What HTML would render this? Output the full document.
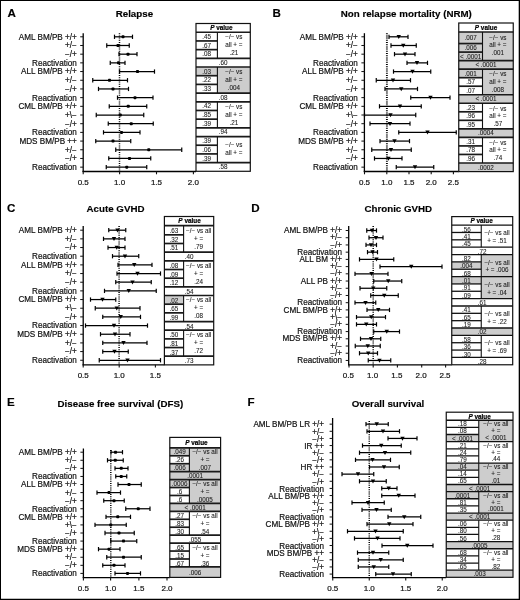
<!DOCTYPE html>
<html lang="en"><head><meta charset="utf-8"><title>Figure</title>
<style>
html,body{margin:0;padding:0;background:#fff;}
body{width:520px;height:600px;overflow:hidden;font-family:'Liberation Sans', Arial, Helvetica, sans-serif;}
svg{display:block;}
.soft{filter:blur(0.32px);}
text{font-family:'Liberation Sans', Arial, Helvetica, sans-serif;fill:#111;}
text.n{stroke:#111;stroke-width:0.2px;}
text.t{fill:#1c1c1c;stroke:#1c1c1c;stroke-width:0.08px;}
text.b{font-weight:bold;fill:#000;stroke:#000;stroke-width:0.15px;}
text.h{stroke-width:0.2px;}
</style></head><body>
<svg width="520" height="600" viewBox="0 0 520 600" font-family="'Liberation Sans', Arial, Helvetica, sans-serif">
<rect x="0" y="0" width="520" height="600" fill="#fff"/>
<g class="soft">
<g id="panel-A">
<text x="7.5" y="16.7" font-size="11.6" text-anchor="start" class="b">A</text>
<text x="134.4" y="17" font-size="9.75" text-anchor="middle" class="b">Relapse</text>
<text x="76.8" y="39.7" font-size="8.15" text-anchor="end" class="n">AML BM/PB +/+</text>
<text x="76.8" y="48.39" font-size="8.15" text-anchor="end" class="n">+/−</text>
<text x="76.8" y="57.08" font-size="8.15" text-anchor="end" class="n">−/+</text>
<text x="76.8" y="65.77" font-size="8.15" text-anchor="end" class="n">Reactivation</text>
<text x="76.8" y="74.46" font-size="8.15" text-anchor="end" class="n">ALL BM/PB +/+</text>
<text x="76.8" y="83.15" font-size="8.15" text-anchor="end" class="n">+/−</text>
<text x="76.8" y="91.84" font-size="8.15" text-anchor="end" class="n">−/+</text>
<text x="76.8" y="100.53" font-size="8.15" text-anchor="end" class="n">Reactivation</text>
<text x="76.8" y="109.22" font-size="8.15" text-anchor="end" class="n">CML BM/PB +/+</text>
<text x="76.8" y="117.91" font-size="8.15" text-anchor="end" class="n">+\−</text>
<text x="76.8" y="126.6" font-size="8.15" text-anchor="end" class="n">−/+</text>
<text x="76.8" y="135.29" font-size="8.15" text-anchor="end" class="n">Reactivation</text>
<text x="76.8" y="143.98" font-size="8.15" text-anchor="end" class="n">MDS BM/PB ++</text>
<text x="76.8" y="152.67" font-size="8.15" text-anchor="end" class="n">+/−</text>
<text x="76.8" y="161.36" font-size="8.15" text-anchor="end" class="n">−/+</text>
<text x="76.8" y="170.05" font-size="8.15" text-anchor="end" class="n">Reactivation</text>
<line x1="83.2" y1="33.2" x2="83.2" y2="172" stroke="#000" stroke-width="1.3"/>
<line x1="80.2" y1="36.8" x2="83.2" y2="36.8" stroke="#111" stroke-width="1"/>
<line x1="80.2" y1="45.49" x2="83.2" y2="45.49" stroke="#111" stroke-width="1"/>
<line x1="80.2" y1="54.18" x2="83.2" y2="54.18" stroke="#111" stroke-width="1"/>
<line x1="80.2" y1="62.87" x2="83.2" y2="62.87" stroke="#111" stroke-width="1"/>
<line x1="80.2" y1="71.56" x2="83.2" y2="71.56" stroke="#111" stroke-width="1"/>
<line x1="80.2" y1="80.25" x2="83.2" y2="80.25" stroke="#111" stroke-width="1"/>
<line x1="80.2" y1="88.94" x2="83.2" y2="88.94" stroke="#111" stroke-width="1"/>
<line x1="80.2" y1="97.63" x2="83.2" y2="97.63" stroke="#111" stroke-width="1"/>
<line x1="80.2" y1="106.32" x2="83.2" y2="106.32" stroke="#111" stroke-width="1"/>
<line x1="80.2" y1="115.01" x2="83.2" y2="115.01" stroke="#111" stroke-width="1"/>
<line x1="80.2" y1="123.7" x2="83.2" y2="123.7" stroke="#111" stroke-width="1"/>
<line x1="80.2" y1="132.39" x2="83.2" y2="132.39" stroke="#111" stroke-width="1"/>
<line x1="80.2" y1="141.08" x2="83.2" y2="141.08" stroke="#111" stroke-width="1"/>
<line x1="80.2" y1="149.77" x2="83.2" y2="149.77" stroke="#111" stroke-width="1"/>
<line x1="80.2" y1="158.46" x2="83.2" y2="158.46" stroke="#111" stroke-width="1"/>
<line x1="80.2" y1="167.15" x2="83.2" y2="167.15" stroke="#111" stroke-width="1"/>
<line x1="82.55" y1="171.5" x2="196" y2="171.5" stroke="#000" stroke-width="1.3"/>
<line x1="83.2" y1="171.5" x2="83.2" y2="174.3" stroke="#111" stroke-width="1.1"/>
<text x="83.2" y="184.8" font-size="8" text-anchor="middle" class="n">0.5</text>
<line x1="119.6" y1="171.5" x2="119.6" y2="174.3" stroke="#111" stroke-width="1.1"/>
<text x="119.6" y="184.8" font-size="8" text-anchor="middle" class="n">1.0</text>
<line x1="156.5" y1="171.5" x2="156.5" y2="174.3" stroke="#111" stroke-width="1.1"/>
<text x="156.5" y="184.8" font-size="8" text-anchor="middle" class="n">1.5</text>
<line x1="193.4" y1="171.5" x2="193.4" y2="174.3" stroke="#111" stroke-width="1.1"/>
<text x="193.4" y="184.8" font-size="8" text-anchor="middle" class="n">2.0</text>
<line x1="119.5" y1="33.2" x2="119.5" y2="171.5" stroke="#000" stroke-width="1.5" stroke-dasharray="1 1.2"/>
<line x1="114.5" y1="36.8" x2="132.5" y2="36.8" stroke="#000" stroke-width="1.25"/>
<line x1="114.5" y1="34.65" x2="114.5" y2="38.95" stroke="#000" stroke-width="1.2"/>
<line x1="132.5" y1="34.65" x2="132.5" y2="38.95" stroke="#000" stroke-width="1.2"/>
<rect x="121.5" y="35.3" width="3" height="3" rx="0.8" fill="#000"/>
<line x1="106.75" y1="45.49" x2="129.25" y2="45.49" stroke="#000" stroke-width="1.25"/>
<line x1="106.75" y1="43.34" x2="106.75" y2="47.64" stroke="#000" stroke-width="1.2"/>
<line x1="129.25" y1="43.34" x2="129.25" y2="47.64" stroke="#000" stroke-width="1.2"/>
<rect x="116.5" y="43.99" width="3" height="3" rx="0.8" fill="#000"/>
<line x1="119" y1="54.18" x2="137" y2="54.18" stroke="#000" stroke-width="1.25"/>
<line x1="119" y1="52.03" x2="119" y2="56.33" stroke="#000" stroke-width="1.2"/>
<line x1="137" y1="52.03" x2="137" y2="56.33" stroke="#000" stroke-width="1.2"/>
<rect x="126.5" y="52.68" width="3" height="3" rx="0.8" fill="#000"/>
<line x1="110.25" y1="62.87" x2="125" y2="62.87" stroke="#000" stroke-width="1.25"/>
<line x1="110.25" y1="60.72" x2="110.25" y2="65.02" stroke="#000" stroke-width="1.2"/>
<line x1="125" y1="60.72" x2="125" y2="65.02" stroke="#000" stroke-width="1.2"/>
<rect x="117" y="61.37" width="3" height="3" rx="0.8" fill="#000"/>
<line x1="119.5" y1="71.56" x2="154.5" y2="71.56" stroke="#000" stroke-width="1.25"/>
<line x1="119.5" y1="69.41" x2="119.5" y2="73.71" stroke="#000" stroke-width="1.2"/>
<line x1="154.5" y1="69.41" x2="154.5" y2="73.71" stroke="#000" stroke-width="1.2"/>
<rect x="136" y="70.06" width="3" height="3" rx="0.8" fill="#000"/>
<line x1="92.75" y1="80.25" x2="127.5" y2="80.25" stroke="#000" stroke-width="1.25"/>
<line x1="92.75" y1="78.1" x2="92.75" y2="82.4" stroke="#000" stroke-width="1.2"/>
<line x1="127.5" y1="78.1" x2="127.5" y2="82.4" stroke="#000" stroke-width="1.2"/>
<rect x="108" y="78.75" width="3" height="3" rx="0.8" fill="#000"/>
<line x1="98.5" y1="88.94" x2="128.5" y2="88.94" stroke="#000" stroke-width="1.25"/>
<line x1="98.5" y1="86.79" x2="98.5" y2="91.09" stroke="#000" stroke-width="1.2"/>
<line x1="128.5" y1="86.79" x2="128.5" y2="91.09" stroke="#000" stroke-width="1.2"/>
<rect x="111.5" y="87.44" width="3" height="3" rx="0.8" fill="#000"/>
<line x1="117.5" y1="97.63" x2="153" y2="97.63" stroke="#000" stroke-width="1.25"/>
<line x1="117.5" y1="95.48" x2="117.5" y2="99.78" stroke="#000" stroke-width="1.2"/>
<line x1="153" y1="95.48" x2="153" y2="99.78" stroke="#000" stroke-width="1.2"/>
<rect x="133.5" y="96.13" width="3" height="3" rx="0.8" fill="#000"/>
<line x1="109.25" y1="106.32" x2="146.75" y2="106.32" stroke="#000" stroke-width="1.25"/>
<line x1="109.25" y1="104.17" x2="109.25" y2="108.47" stroke="#000" stroke-width="1.2"/>
<line x1="146.75" y1="104.17" x2="146.75" y2="108.47" stroke="#000" stroke-width="1.2"/>
<rect x="126.75" y="104.82" width="3" height="3" rx="0.8" fill="#000"/>
<line x1="96.25" y1="115.01" x2="143.75" y2="115.01" stroke="#000" stroke-width="1.25"/>
<line x1="96.25" y1="112.86" x2="96.25" y2="117.16" stroke="#000" stroke-width="1.2"/>
<line x1="143.75" y1="112.86" x2="143.75" y2="117.16" stroke="#000" stroke-width="1.2"/>
<rect x="118.75" y="113.51" width="3" height="3" rx="0.8" fill="#000"/>
<line x1="108.25" y1="123.7" x2="153.25" y2="123.7" stroke="#000" stroke-width="1.25"/>
<line x1="108.25" y1="121.55" x2="108.25" y2="125.85" stroke="#000" stroke-width="1.2"/>
<line x1="153.25" y1="121.55" x2="153.25" y2="125.85" stroke="#000" stroke-width="1.2"/>
<rect x="129.75" y="122.2" width="3" height="3" rx="0.8" fill="#000"/>
<line x1="103.5" y1="132.39" x2="140" y2="132.39" stroke="#000" stroke-width="1.25"/>
<line x1="103.5" y1="130.24" x2="103.5" y2="134.54" stroke="#000" stroke-width="1.2"/>
<line x1="140" y1="130.24" x2="140" y2="134.54" stroke="#000" stroke-width="1.2"/>
<rect x="120" y="130.89" width="3" height="3" rx="0.8" fill="#000"/>
<line x1="95.75" y1="141.08" x2="130.75" y2="141.08" stroke="#000" stroke-width="1.25"/>
<line x1="95.75" y1="138.93" x2="95.75" y2="143.23" stroke="#000" stroke-width="1.2"/>
<line x1="130.75" y1="138.93" x2="130.75" y2="143.23" stroke="#000" stroke-width="1.2"/>
<rect x="111.5" y="139.58" width="3" height="3" rx="0.8" fill="#000"/>
<line x1="115.75" y1="149.77" x2="181.75" y2="149.77" stroke="#000" stroke-width="1.25"/>
<line x1="115.75" y1="147.62" x2="115.75" y2="151.92" stroke="#000" stroke-width="1.2"/>
<line x1="181.75" y1="147.62" x2="181.75" y2="151.92" stroke="#000" stroke-width="1.2"/>
<rect x="147.25" y="148.27" width="3" height="3" rx="0.8" fill="#000"/>
<line x1="108.75" y1="158.46" x2="150.75" y2="158.46" stroke="#000" stroke-width="1.25"/>
<line x1="108.75" y1="156.31" x2="108.75" y2="160.61" stroke="#000" stroke-width="1.2"/>
<line x1="150.75" y1="156.31" x2="150.75" y2="160.61" stroke="#000" stroke-width="1.2"/>
<rect x="128" y="156.96" width="3" height="3" rx="0.8" fill="#000"/>
<line x1="106.25" y1="167.15" x2="146.75" y2="167.15" stroke="#000" stroke-width="1.25"/>
<line x1="106.25" y1="165" x2="106.25" y2="169.3" stroke="#000" stroke-width="1.2"/>
<line x1="146.75" y1="165" x2="146.75" y2="169.3" stroke="#000" stroke-width="1.2"/>
<rect x="125.25" y="165.65" width="3" height="3" rx="0.8" fill="#000"/>
<rect x="196" y="23.5" width="54.3" height="147.79" fill="#fff" stroke="none" stroke-width="1"/>
<rect x="217.4" y="67.02" width="32.9" height="26.07" fill="#cdcdcd" stroke="none" stroke-width="1"/>
<rect x="196" y="67.02" width="21.4" height="8.69" fill="#cdcdcd" stroke="none" stroke-width="1"/>
<line x1="196" y1="32.26" x2="250.3" y2="32.26" stroke="#1a1a1a" stroke-width="1.7"/>
<line x1="196" y1="40.95" x2="217.4" y2="40.95" stroke="#1a1a1a" stroke-width="1.7"/>
<line x1="196" y1="49.64" x2="217.4" y2="49.64" stroke="#1a1a1a" stroke-width="1.7"/>
<line x1="196" y1="58.33" x2="250.3" y2="58.33" stroke="#1a1a1a" stroke-width="1.7"/>
<line x1="217.4" y1="32.26" x2="217.4" y2="58.33" stroke="#111" stroke-width="1.1"/>
<line x1="196" y1="67.02" x2="250.3" y2="67.02" stroke="#1a1a1a" stroke-width="1.7"/>
<line x1="196" y1="75.7" x2="217.4" y2="75.7" stroke="#1a1a1a" stroke-width="1.7"/>
<line x1="196" y1="84.4" x2="217.4" y2="84.4" stroke="#1a1a1a" stroke-width="1.7"/>
<line x1="196" y1="93.09" x2="250.3" y2="93.09" stroke="#1a1a1a" stroke-width="1.7"/>
<line x1="217.4" y1="67.02" x2="217.4" y2="93.09" stroke="#111" stroke-width="1.1"/>
<line x1="196" y1="101.78" x2="250.3" y2="101.78" stroke="#1a1a1a" stroke-width="1.7"/>
<line x1="196" y1="110.47" x2="217.4" y2="110.47" stroke="#1a1a1a" stroke-width="1.7"/>
<line x1="196" y1="119.16" x2="217.4" y2="119.16" stroke="#1a1a1a" stroke-width="1.7"/>
<line x1="196" y1="127.84" x2="250.3" y2="127.84" stroke="#1a1a1a" stroke-width="1.7"/>
<line x1="217.4" y1="101.78" x2="217.4" y2="127.84" stroke="#111" stroke-width="1.1"/>
<line x1="196" y1="136.53" x2="250.3" y2="136.53" stroke="#1a1a1a" stroke-width="1.7"/>
<line x1="196" y1="145.22" x2="217.4" y2="145.22" stroke="#1a1a1a" stroke-width="1.7"/>
<line x1="196" y1="153.91" x2="217.4" y2="153.91" stroke="#1a1a1a" stroke-width="1.7"/>
<line x1="196" y1="162.6" x2="250.3" y2="162.6" stroke="#1a1a1a" stroke-width="1.7"/>
<line x1="217.4" y1="136.53" x2="217.4" y2="162.6" stroke="#111" stroke-width="1.1"/>
<rect x="196" y="23.5" width="54.3" height="147.79" fill="none" stroke="#111" stroke-width="1.2"/>
<text x="221.35" y="30.18" font-size="6.4" text-anchor="middle" class="b h"><tspan font-style="italic">P</tspan> value</text>
<text x="206.7" y="38.85" font-size="6.3" text-anchor="middle" class="t">.45</text>
<text x="206.7" y="47.54" font-size="6.3" text-anchor="middle" class="t">.67</text>
<text x="206.7" y="56.23" font-size="6.3" text-anchor="middle" class="t">.08</text>
<text x="233.85" y="39.19" font-size="6.3" text-anchor="middle" class="t">−/− vs</text>
<text x="233.85" y="47.14" font-size="6.3" text-anchor="middle" class="t">all + =</text>
<text x="233.85" y="55.09" font-size="6.3" text-anchor="middle" class="t">.21</text>
<text x="223.15" y="64.92" font-size="6.3" text-anchor="middle" class="t">.60</text>
<text x="206.7" y="73.61" font-size="6.3" text-anchor="middle" class="t">.03</text>
<text x="206.7" y="82.3" font-size="6.3" text-anchor="middle" class="t">.22</text>
<text x="206.7" y="90.99" font-size="6.3" text-anchor="middle" class="t">.33</text>
<text x="233.85" y="73.95" font-size="6.3" text-anchor="middle" class="t">−/− vs</text>
<text x="233.85" y="81.9" font-size="6.3" text-anchor="middle" class="t">all + =</text>
<text x="233.85" y="89.85" font-size="6.3" text-anchor="middle" class="t">.004</text>
<text x="223.15" y="99.68" font-size="6.3" text-anchor="middle" class="t">.08</text>
<text x="206.7" y="108.37" font-size="6.3" text-anchor="middle" class="t">.42</text>
<text x="206.7" y="117.06" font-size="6.3" text-anchor="middle" class="t">.85</text>
<text x="206.7" y="125.75" font-size="6.3" text-anchor="middle" class="t">.39</text>
<text x="233.85" y="108.71" font-size="6.3" text-anchor="middle" class="t">−/− vs</text>
<text x="233.85" y="116.66" font-size="6.3" text-anchor="middle" class="t">all + =</text>
<text x="233.85" y="124.61" font-size="6.3" text-anchor="middle" class="t">.21</text>
<text x="223.15" y="134.44" font-size="6.3" text-anchor="middle" class="t">.94</text>
<text x="206.7" y="143.13" font-size="6.3" text-anchor="middle" class="t">.39</text>
<text x="206.7" y="151.82" font-size="6.3" text-anchor="middle" class="t">.06</text>
<text x="206.7" y="160.51" font-size="6.3" text-anchor="middle" class="t">.39</text>
<text x="233.85" y="147.44" font-size="6.3" text-anchor="middle" class="t">−/− vs</text>
<text x="233.85" y="155.39" font-size="6.3" text-anchor="middle" class="t">all + =</text>
<text x="223.15" y="169.2" font-size="6.3" text-anchor="middle" class="t">.58</text>
</g>
<g id="panel-B">
<text x="272.5" y="16.7" font-size="11.6" text-anchor="start" class="b">B</text>
<text x="406.3" y="17" font-size="9.75" text-anchor="middle" class="b">Non relapse mortality (NRM)</text>
<text x="357.8" y="39.7" font-size="8.15" text-anchor="end" class="n">AML BM/PB +/+</text>
<text x="357.8" y="48.39" font-size="8.15" text-anchor="end" class="n">+/−</text>
<text x="357.8" y="57.08" font-size="8.15" text-anchor="end" class="n">−/+</text>
<text x="357.8" y="65.77" font-size="8.15" text-anchor="end" class="n">Reactivation</text>
<text x="357.8" y="74.46" font-size="8.15" text-anchor="end" class="n">ALL BM/PB +/+</text>
<text x="357.8" y="83.15" font-size="8.15" text-anchor="end" class="n">+/−</text>
<text x="357.8" y="91.84" font-size="8.15" text-anchor="end" class="n">−/+</text>
<text x="357.8" y="100.53" font-size="8.15" text-anchor="end" class="n">Reactivation</text>
<text x="357.8" y="109.22" font-size="8.15" text-anchor="end" class="n">CML BM/PB +/+</text>
<text x="357.8" y="117.91" font-size="8.15" text-anchor="end" class="n">+\−</text>
<text x="357.8" y="126.6" font-size="8.15" text-anchor="end" class="n">−/+</text>
<text x="357.8" y="135.29" font-size="8.15" text-anchor="end" class="n">Reactivation</text>
<text x="357.8" y="143.98" font-size="8.15" text-anchor="end" class="n">MDS BM/PB +/+</text>
<text x="357.8" y="152.67" font-size="8.15" text-anchor="end" class="n">+/−</text>
<text x="357.8" y="161.36" font-size="8.15" text-anchor="end" class="n">−/+</text>
<text x="357.8" y="170.05" font-size="8.15" text-anchor="end" class="n">Reactivation</text>
<line x1="364.4" y1="33.2" x2="364.4" y2="172" stroke="#000" stroke-width="1.3"/>
<line x1="361.4" y1="36.8" x2="364.4" y2="36.8" stroke="#111" stroke-width="1"/>
<line x1="361.4" y1="45.49" x2="364.4" y2="45.49" stroke="#111" stroke-width="1"/>
<line x1="361.4" y1="54.18" x2="364.4" y2="54.18" stroke="#111" stroke-width="1"/>
<line x1="361.4" y1="62.87" x2="364.4" y2="62.87" stroke="#111" stroke-width="1"/>
<line x1="361.4" y1="71.56" x2="364.4" y2="71.56" stroke="#111" stroke-width="1"/>
<line x1="361.4" y1="80.25" x2="364.4" y2="80.25" stroke="#111" stroke-width="1"/>
<line x1="361.4" y1="88.94" x2="364.4" y2="88.94" stroke="#111" stroke-width="1"/>
<line x1="361.4" y1="97.63" x2="364.4" y2="97.63" stroke="#111" stroke-width="1"/>
<line x1="361.4" y1="106.32" x2="364.4" y2="106.32" stroke="#111" stroke-width="1"/>
<line x1="361.4" y1="115.01" x2="364.4" y2="115.01" stroke="#111" stroke-width="1"/>
<line x1="361.4" y1="123.7" x2="364.4" y2="123.7" stroke="#111" stroke-width="1"/>
<line x1="361.4" y1="132.39" x2="364.4" y2="132.39" stroke="#111" stroke-width="1"/>
<line x1="361.4" y1="141.08" x2="364.4" y2="141.08" stroke="#111" stroke-width="1"/>
<line x1="361.4" y1="149.77" x2="364.4" y2="149.77" stroke="#111" stroke-width="1"/>
<line x1="361.4" y1="158.46" x2="364.4" y2="158.46" stroke="#111" stroke-width="1"/>
<line x1="361.4" y1="167.15" x2="364.4" y2="167.15" stroke="#111" stroke-width="1"/>
<line x1="363.75" y1="171.5" x2="458.7" y2="171.5" stroke="#000" stroke-width="1.3"/>
<line x1="364.5" y1="171.5" x2="364.5" y2="174.3" stroke="#111" stroke-width="1.1"/>
<text x="364.5" y="184.8" font-size="8" text-anchor="middle" class="n">0.5</text>
<line x1="386.8" y1="171.5" x2="386.8" y2="174.3" stroke="#111" stroke-width="1.1"/>
<text x="386.8" y="184.8" font-size="8" text-anchor="middle" class="n">1.0</text>
<line x1="409" y1="171.5" x2="409" y2="174.3" stroke="#111" stroke-width="1.1"/>
<text x="409" y="184.8" font-size="8" text-anchor="middle" class="n">1.5</text>
<line x1="431.2" y1="171.5" x2="431.2" y2="174.3" stroke="#111" stroke-width="1.1"/>
<text x="431.2" y="184.8" font-size="8" text-anchor="middle" class="n">2.0</text>
<line x1="453.4" y1="171.5" x2="453.4" y2="174.3" stroke="#111" stroke-width="1.1"/>
<text x="453.4" y="184.8" font-size="8" text-anchor="middle" class="n">2.5</text>
<line x1="386.9" y1="33.2" x2="386.9" y2="171.5" stroke="#000" stroke-width="1.9" stroke-dasharray="1 1.2"/>
<line x1="389" y1="36.8" x2="408" y2="36.8" stroke="#000" stroke-width="1.25"/>
<line x1="389" y1="34.65" x2="389" y2="38.95" stroke="#000" stroke-width="1.2"/>
<line x1="408" y1="34.65" x2="408" y2="38.95" stroke="#000" stroke-width="1.2"/>
<path d="M396.55 35H400.95L398.75 39Z" fill="#000"/>
<line x1="391" y1="45.49" x2="416.25" y2="45.49" stroke="#000" stroke-width="1.25"/>
<line x1="391" y1="43.34" x2="391" y2="47.64" stroke="#000" stroke-width="1.2"/>
<line x1="416.25" y1="43.34" x2="416.25" y2="47.64" stroke="#000" stroke-width="1.2"/>
<path d="M401.05 43.69H405.45L403.25 47.69Z" fill="#000"/>
<line x1="394.5" y1="54.18" x2="415" y2="54.18" stroke="#000" stroke-width="1.25"/>
<line x1="394.5" y1="52.03" x2="394.5" y2="56.33" stroke="#000" stroke-width="1.2"/>
<line x1="415" y1="52.03" x2="415" y2="56.33" stroke="#000" stroke-width="1.2"/>
<path d="M402.8 52.38H407.2L405 56.38Z" fill="#000"/>
<line x1="407" y1="62.87" x2="427.5" y2="62.87" stroke="#000" stroke-width="1.25"/>
<line x1="407" y1="60.72" x2="407" y2="65.02" stroke="#000" stroke-width="1.2"/>
<line x1="427.5" y1="60.72" x2="427.5" y2="65.02" stroke="#000" stroke-width="1.2"/>
<path d="M414.8 61.07H419.2L417 65.07Z" fill="#000"/>
<line x1="393.5" y1="71.56" x2="430.75" y2="71.56" stroke="#000" stroke-width="1.25"/>
<line x1="393.5" y1="69.41" x2="393.5" y2="73.71" stroke="#000" stroke-width="1.2"/>
<line x1="430.75" y1="69.41" x2="430.75" y2="73.71" stroke="#000" stroke-width="1.2"/>
<path d="M410.3 69.76H414.7L412.5 73.76Z" fill="#000"/>
<line x1="376.25" y1="80.25" x2="410.5" y2="80.25" stroke="#000" stroke-width="1.25"/>
<line x1="376.25" y1="78.1" x2="376.25" y2="82.4" stroke="#000" stroke-width="1.2"/>
<line x1="410.5" y1="78.1" x2="410.5" y2="82.4" stroke="#000" stroke-width="1.2"/>
<path d="M390.8 78.45H395.2L393 82.45Z" fill="#000"/>
<line x1="385" y1="88.94" x2="417.5" y2="88.94" stroke="#000" stroke-width="1.25"/>
<line x1="385" y1="86.79" x2="385" y2="91.09" stroke="#000" stroke-width="1.2"/>
<line x1="417.5" y1="86.79" x2="417.5" y2="91.09" stroke="#000" stroke-width="1.2"/>
<path d="M399.05 87.14H403.45L401.25 91.14Z" fill="#000"/>
<line x1="410.75" y1="97.63" x2="450" y2="97.63" stroke="#000" stroke-width="1.25"/>
<line x1="410.75" y1="95.48" x2="410.75" y2="99.78" stroke="#000" stroke-width="1.2"/>
<line x1="450" y1="95.48" x2="450" y2="99.78" stroke="#000" stroke-width="1.2"/>
<path d="M428.3 95.83H432.7L430.5 99.83Z" fill="#000"/>
<line x1="379.5" y1="106.32" x2="421.25" y2="106.32" stroke="#000" stroke-width="1.25"/>
<line x1="379.5" y1="104.17" x2="379.5" y2="108.47" stroke="#000" stroke-width="1.2"/>
<line x1="421.25" y1="104.17" x2="421.25" y2="108.47" stroke="#000" stroke-width="1.2"/>
<path d="M397.8 104.52H402.2L400 108.52Z" fill="#000"/>
<line x1="364.5" y1="115.01" x2="415.75" y2="115.01" stroke="#000" stroke-width="1.25"/>
<line x1="364.5" y1="112.86" x2="364.5" y2="117.16" stroke="#000" stroke-width="1.2"/>
<line x1="415.75" y1="112.86" x2="415.75" y2="117.16" stroke="#000" stroke-width="1.2"/>
<path d="M388.3 113.21H392.7L390.5 117.21Z" fill="#000"/>
<line x1="370" y1="123.7" x2="410" y2="123.7" stroke="#000" stroke-width="1.25"/>
<line x1="370" y1="121.55" x2="370" y2="125.85" stroke="#000" stroke-width="1.2"/>
<line x1="410" y1="121.55" x2="410" y2="125.85" stroke="#000" stroke-width="1.2"/>
<path d="M387.8 121.9H392.2L390 125.9Z" fill="#000"/>
<line x1="398.75" y1="132.39" x2="456.25" y2="132.39" stroke="#000" stroke-width="1.25"/>
<line x1="398.75" y1="130.24" x2="398.75" y2="134.54" stroke="#000" stroke-width="1.2"/>
<line x1="456.25" y1="130.24" x2="456.25" y2="134.54" stroke="#000" stroke-width="1.2"/>
<path d="M425.3 130.59H429.7L427.5 134.59Z" fill="#000"/>
<line x1="380" y1="141.08" x2="409.5" y2="141.08" stroke="#000" stroke-width="1.25"/>
<line x1="380" y1="138.93" x2="380" y2="143.23" stroke="#000" stroke-width="1.2"/>
<line x1="409.5" y1="138.93" x2="409.5" y2="143.23" stroke="#000" stroke-width="1.2"/>
<path d="M392.3 139.28H396.7L394.5 143.28Z" fill="#000"/>
<line x1="371.75" y1="149.77" x2="411.25" y2="149.77" stroke="#000" stroke-width="1.25"/>
<line x1="371.75" y1="147.62" x2="371.75" y2="151.92" stroke="#000" stroke-width="1.2"/>
<line x1="411.25" y1="147.62" x2="411.25" y2="151.92" stroke="#000" stroke-width="1.2"/>
<path d="M388.8 147.97H393.2L391 151.97Z" fill="#000"/>
<line x1="374.5" y1="158.46" x2="402" y2="158.46" stroke="#000" stroke-width="1.25"/>
<line x1="374.5" y1="156.31" x2="374.5" y2="160.61" stroke="#000" stroke-width="1.2"/>
<line x1="402" y1="156.31" x2="402" y2="160.61" stroke="#000" stroke-width="1.2"/>
<path d="M386.3 156.66H390.7L388.5 160.66Z" fill="#000"/>
<line x1="396.25" y1="167.15" x2="433.75" y2="167.15" stroke="#000" stroke-width="1.25"/>
<line x1="396.25" y1="165" x2="396.25" y2="169.3" stroke="#000" stroke-width="1.2"/>
<line x1="433.75" y1="165" x2="433.75" y2="169.3" stroke="#000" stroke-width="1.2"/>
<path d="M412.8 165.35H417.2L415 169.35Z" fill="#000"/>
<rect x="458.75" y="23" width="54.5" height="148.6" fill="#fff" stroke="none" stroke-width="1"/>
<rect x="482.5" y="32" width="30.75" height="28.62" fill="#cdcdcd" stroke="none" stroke-width="1"/>
<rect x="458.75" y="32" width="23.75" height="11.56" fill="#cdcdcd" stroke="none" stroke-width="1"/>
<rect x="458.75" y="43.56" width="23.75" height="8.53" fill="#cdcdcd" stroke="none" stroke-width="1"/>
<rect x="458.75" y="52.09" width="23.75" height="8.53" fill="#cdcdcd" stroke="none" stroke-width="1"/>
<rect x="458.75" y="60.62" width="54.5" height="8.53" fill="#cdcdcd" stroke="none" stroke-width="1"/>
<rect x="482.5" y="69.16" width="30.75" height="25.59" fill="#cdcdcd" stroke="none" stroke-width="1"/>
<rect x="458.75" y="69.16" width="23.75" height="8.53" fill="#cdcdcd" stroke="none" stroke-width="1"/>
<rect x="458.75" y="94.74" width="54.5" height="8.53" fill="#cdcdcd" stroke="none" stroke-width="1"/>
<rect x="458.75" y="128.87" width="54.5" height="8.53" fill="#cdcdcd" stroke="none" stroke-width="1"/>
<rect x="458.75" y="162.98" width="54.5" height="8.62" fill="#cdcdcd" stroke="none" stroke-width="1"/>
<line x1="458.75" y1="32" x2="513.25" y2="32" stroke="#1a1a1a" stroke-width="1.7"/>
<line x1="458.75" y1="43.56" x2="482.5" y2="43.56" stroke="#1a1a1a" stroke-width="1.7"/>
<line x1="458.75" y1="52.09" x2="482.5" y2="52.09" stroke="#1a1a1a" stroke-width="1.7"/>
<line x1="458.75" y1="60.62" x2="513.25" y2="60.62" stroke="#1a1a1a" stroke-width="1.7"/>
<line x1="482.5" y1="32" x2="482.5" y2="60.62" stroke="#111" stroke-width="1.1"/>
<line x1="458.75" y1="69.16" x2="513.25" y2="69.16" stroke="#1a1a1a" stroke-width="1.7"/>
<line x1="458.75" y1="77.69" x2="482.5" y2="77.69" stroke="#1a1a1a" stroke-width="1.7"/>
<line x1="458.75" y1="86.21" x2="482.5" y2="86.21" stroke="#1a1a1a" stroke-width="1.7"/>
<line x1="458.75" y1="94.74" x2="513.25" y2="94.74" stroke="#1a1a1a" stroke-width="1.7"/>
<line x1="482.5" y1="69.16" x2="482.5" y2="94.74" stroke="#111" stroke-width="1.1"/>
<line x1="458.75" y1="103.27" x2="513.25" y2="103.27" stroke="#1a1a1a" stroke-width="1.7"/>
<line x1="458.75" y1="111.8" x2="482.5" y2="111.8" stroke="#1a1a1a" stroke-width="1.7"/>
<line x1="458.75" y1="120.33" x2="482.5" y2="120.33" stroke="#1a1a1a" stroke-width="1.7"/>
<line x1="458.75" y1="128.87" x2="513.25" y2="128.87" stroke="#1a1a1a" stroke-width="1.7"/>
<line x1="482.5" y1="103.27" x2="482.5" y2="128.87" stroke="#111" stroke-width="1.1"/>
<line x1="458.75" y1="137.39" x2="513.25" y2="137.39" stroke="#1a1a1a" stroke-width="1.7"/>
<line x1="458.75" y1="145.92" x2="482.5" y2="145.92" stroke="#1a1a1a" stroke-width="1.7"/>
<line x1="458.75" y1="154.45" x2="482.5" y2="154.45" stroke="#1a1a1a" stroke-width="1.7"/>
<line x1="458.75" y1="162.98" x2="513.25" y2="162.98" stroke="#1a1a1a" stroke-width="1.7"/>
<line x1="482.5" y1="137.39" x2="482.5" y2="162.98" stroke="#111" stroke-width="1.1"/>
<rect x="458.75" y="23" width="54.5" height="148.6" fill="none" stroke="#111" stroke-width="1.2"/>
<text x="486" y="29.8" font-size="6.4" text-anchor="middle" class="b h"><tspan font-style="italic">P</tspan> value</text>
<text x="470.62" y="40.03" font-size="6.3" text-anchor="middle" class="t">.007</text>
<text x="470.62" y="50.08" font-size="6.3" text-anchor="middle" class="t">.006</text>
<text x="470.62" y="58.61" font-size="6.3" text-anchor="middle" class="t">&lt; .0001</text>
<text x="497.88" y="39.63" font-size="6.3" text-anchor="middle" class="t">−/− vs</text>
<text x="497.88" y="47.38" font-size="6.3" text-anchor="middle" class="t">all + =</text>
<text x="497.88" y="55.13" font-size="6.3" text-anchor="middle" class="t">.001</text>
<text x="486" y="67.14" font-size="6.3" text-anchor="middle" class="t">&lt; .0001</text>
<text x="470.62" y="75.67" font-size="6.3" text-anchor="middle" class="t">.001</text>
<text x="470.62" y="84.2" font-size="6.3" text-anchor="middle" class="t">.57</text>
<text x="470.62" y="92.73" font-size="6.3" text-anchor="middle" class="t">.07</text>
<text x="497.88" y="76.45" font-size="6.3" text-anchor="middle" class="t">−/− vs</text>
<text x="497.88" y="84.2" font-size="6.3" text-anchor="middle" class="t">all + =</text>
<text x="497.88" y="91.95" font-size="6.3" text-anchor="middle" class="t">.008</text>
<text x="486" y="101.26" font-size="6.3" text-anchor="middle" class="t">&lt; .0001</text>
<text x="470.62" y="109.79" font-size="6.3" text-anchor="middle" class="t">.23</text>
<text x="470.62" y="118.32" font-size="6.3" text-anchor="middle" class="t">.96</text>
<text x="470.62" y="126.85" font-size="6.3" text-anchor="middle" class="t">.95</text>
<text x="497.88" y="110.57" font-size="6.3" text-anchor="middle" class="t">−/− vs</text>
<text x="497.88" y="118.32" font-size="6.3" text-anchor="middle" class="t">all + =</text>
<text x="497.88" y="126.07" font-size="6.3" text-anchor="middle" class="t">.57</text>
<text x="486" y="135.38" font-size="6.3" text-anchor="middle" class="t">.0004</text>
<text x="470.62" y="143.91" font-size="6.3" text-anchor="middle" class="t">.31</text>
<text x="470.62" y="152.44" font-size="6.3" text-anchor="middle" class="t">.78</text>
<text x="470.62" y="160.97" font-size="6.3" text-anchor="middle" class="t">.96</text>
<text x="497.88" y="144.69" font-size="6.3" text-anchor="middle" class="t">−/− vs</text>
<text x="497.88" y="152.44" font-size="6.3" text-anchor="middle" class="t">all + =</text>
<text x="497.88" y="160.19" font-size="6.3" text-anchor="middle" class="t">.74</text>
<text x="486" y="169.54" font-size="6.3" text-anchor="middle" class="t">.0002</text>
</g>
<g id="panel-C">
<text x="7" y="211.7" font-size="11.6" text-anchor="start" class="b">C</text>
<text x="115.5" y="212" font-size="9.75" text-anchor="middle" class="b">Acute GVHD</text>
<text x="76.8" y="233.1" font-size="8.15" text-anchor="end" class="n">AML BM/PB +/+</text>
<text x="76.8" y="241.77" font-size="8.15" text-anchor="end" class="n">+/−</text>
<text x="76.8" y="250.44" font-size="8.15" text-anchor="end" class="n">−/+</text>
<text x="76.8" y="259.11" font-size="8.15" text-anchor="end" class="n">Reactivation</text>
<text x="76.8" y="267.78" font-size="8.15" text-anchor="end" class="n">ALL BM/PB +/+</text>
<text x="76.8" y="276.45" font-size="8.15" text-anchor="end" class="n">+/−</text>
<text x="76.8" y="285.12" font-size="8.15" text-anchor="end" class="n">−/+</text>
<text x="76.8" y="293.79" font-size="8.15" text-anchor="end" class="n">Reactivation</text>
<text x="76.8" y="302.46" font-size="8.15" text-anchor="end" class="n">CML BM/PB +/+</text>
<text x="76.8" y="311.13" font-size="8.15" text-anchor="end" class="n">+\−</text>
<text x="76.8" y="319.8" font-size="8.15" text-anchor="end" class="n">−/+</text>
<text x="76.8" y="328.47" font-size="8.15" text-anchor="end" class="n">Reactivation</text>
<text x="76.8" y="337.14" font-size="8.15" text-anchor="end" class="n">MDS BM/PB +/+</text>
<text x="76.8" y="345.81" font-size="8.15" text-anchor="end" class="n">+/−</text>
<text x="76.8" y="354.48" font-size="8.15" text-anchor="end" class="n">−/+</text>
<text x="76.8" y="363.15" font-size="8.15" text-anchor="end" class="n">Reactivation</text>
<line x1="83.2" y1="226" x2="83.2" y2="365.3" stroke="#000" stroke-width="1.3"/>
<line x1="80.2" y1="230.2" x2="83.2" y2="230.2" stroke="#111" stroke-width="1"/>
<line x1="80.2" y1="238.87" x2="83.2" y2="238.87" stroke="#111" stroke-width="1"/>
<line x1="80.2" y1="247.54" x2="83.2" y2="247.54" stroke="#111" stroke-width="1"/>
<line x1="80.2" y1="256.21" x2="83.2" y2="256.21" stroke="#111" stroke-width="1"/>
<line x1="80.2" y1="264.88" x2="83.2" y2="264.88" stroke="#111" stroke-width="1"/>
<line x1="80.2" y1="273.55" x2="83.2" y2="273.55" stroke="#111" stroke-width="1"/>
<line x1="80.2" y1="282.22" x2="83.2" y2="282.22" stroke="#111" stroke-width="1"/>
<line x1="80.2" y1="290.89" x2="83.2" y2="290.89" stroke="#111" stroke-width="1"/>
<line x1="80.2" y1="299.56" x2="83.2" y2="299.56" stroke="#111" stroke-width="1"/>
<line x1="80.2" y1="308.23" x2="83.2" y2="308.23" stroke="#111" stroke-width="1"/>
<line x1="80.2" y1="316.9" x2="83.2" y2="316.9" stroke="#111" stroke-width="1"/>
<line x1="80.2" y1="325.57" x2="83.2" y2="325.57" stroke="#111" stroke-width="1"/>
<line x1="80.2" y1="334.24" x2="83.2" y2="334.24" stroke="#111" stroke-width="1"/>
<line x1="80.2" y1="342.91" x2="83.2" y2="342.91" stroke="#111" stroke-width="1"/>
<line x1="80.2" y1="351.58" x2="83.2" y2="351.58" stroke="#111" stroke-width="1"/>
<line x1="80.2" y1="360.25" x2="83.2" y2="360.25" stroke="#111" stroke-width="1"/>
<line x1="82.55" y1="364.8" x2="164.4" y2="364.8" stroke="#000" stroke-width="1.3"/>
<line x1="83.2" y1="364.8" x2="83.2" y2="367.6" stroke="#111" stroke-width="1.1"/>
<text x="83.2" y="378.1" font-size="8" text-anchor="middle" class="n">0.5</text>
<line x1="119.2" y1="364.8" x2="119.2" y2="367.6" stroke="#111" stroke-width="1.1"/>
<text x="119.2" y="378.1" font-size="8" text-anchor="middle" class="n">1.0</text>
<line x1="155.4" y1="364.8" x2="155.4" y2="367.6" stroke="#111" stroke-width="1.1"/>
<text x="155.4" y="378.1" font-size="8" text-anchor="middle" class="n">1.5</text>
<line x1="119.1" y1="226" x2="119.1" y2="364.8" stroke="#000" stroke-width="1.5" stroke-dasharray="1 1.2"/>
<line x1="108.75" y1="230.2" x2="125.75" y2="230.2" stroke="#000" stroke-width="1.25"/>
<line x1="108.75" y1="228.05" x2="108.75" y2="232.35" stroke="#000" stroke-width="1.2"/>
<line x1="125.75" y1="228.05" x2="125.75" y2="232.35" stroke="#000" stroke-width="1.2"/>
<path d="M115.3 228.4H119.7L117.5 232.4Z" fill="#000"/>
<line x1="103.5" y1="238.87" x2="125" y2="238.87" stroke="#000" stroke-width="1.25"/>
<line x1="103.5" y1="236.72" x2="103.5" y2="241.02" stroke="#000" stroke-width="1.2"/>
<line x1="125" y1="236.72" x2="125" y2="241.02" stroke="#000" stroke-width="1.2"/>
<path d="M111.8 237.07H116.2L114 241.07Z" fill="#000"/>
<line x1="108" y1="247.54" x2="125" y2="247.54" stroke="#000" stroke-width="1.25"/>
<line x1="108" y1="245.39" x2="108" y2="249.69" stroke="#000" stroke-width="1.2"/>
<line x1="125" y1="245.39" x2="125" y2="249.69" stroke="#000" stroke-width="1.2"/>
<path d="M114.55 245.74H118.95L116.75 249.74Z" fill="#000"/>
<line x1="112.5" y1="256.21" x2="138.75" y2="256.21" stroke="#000" stroke-width="1.25"/>
<line x1="112.5" y1="254.06" x2="112.5" y2="258.36" stroke="#000" stroke-width="1.2"/>
<line x1="138.75" y1="254.06" x2="138.75" y2="258.36" stroke="#000" stroke-width="1.2"/>
<path d="M122.8 254.41H127.2L125 258.41Z" fill="#000"/>
<line x1="118" y1="264.88" x2="152" y2="264.88" stroke="#000" stroke-width="1.25"/>
<line x1="118" y1="262.73" x2="118" y2="267.03" stroke="#000" stroke-width="1.2"/>
<line x1="152" y1="262.73" x2="152" y2="267.03" stroke="#000" stroke-width="1.2"/>
<path d="M132.05 263.08H136.45L134.25 267.08Z" fill="#000"/>
<line x1="117" y1="273.55" x2="160.5" y2="273.55" stroke="#000" stroke-width="1.25"/>
<line x1="117" y1="271.4" x2="117" y2="275.7" stroke="#000" stroke-width="1.2"/>
<line x1="160.5" y1="271.4" x2="160.5" y2="275.7" stroke="#000" stroke-width="1.2"/>
<path d="M135.3 271.75H139.7L137.5 275.75Z" fill="#000"/>
<line x1="115.75" y1="282.22" x2="151.25" y2="282.22" stroke="#000" stroke-width="1.25"/>
<line x1="115.75" y1="280.07" x2="115.75" y2="284.37" stroke="#000" stroke-width="1.2"/>
<line x1="151.25" y1="280.07" x2="151.25" y2="284.37" stroke="#000" stroke-width="1.2"/>
<path d="M130.3 280.42H134.7L132.5 284.42Z" fill="#000"/>
<line x1="104.5" y1="290.89" x2="156.25" y2="290.89" stroke="#000" stroke-width="1.25"/>
<line x1="104.5" y1="288.74" x2="104.5" y2="293.04" stroke="#000" stroke-width="1.2"/>
<line x1="156.25" y1="288.74" x2="156.25" y2="293.04" stroke="#000" stroke-width="1.2"/>
<path d="M126.55 289.09H130.95L128.75 293.09Z" fill="#000"/>
<line x1="90.5" y1="299.56" x2="115.75" y2="299.56" stroke="#000" stroke-width="1.25"/>
<line x1="90.5" y1="297.41" x2="90.5" y2="301.71" stroke="#000" stroke-width="1.2"/>
<line x1="115.75" y1="297.41" x2="115.75" y2="301.71" stroke="#000" stroke-width="1.2"/>
<path d="M100.3 297.76H104.7L102.5 301.76Z" fill="#000"/>
<line x1="95.25" y1="308.23" x2="140" y2="308.23" stroke="#000" stroke-width="1.25"/>
<line x1="95.25" y1="306.08" x2="95.25" y2="310.38" stroke="#000" stroke-width="1.2"/>
<line x1="140" y1="306.08" x2="140" y2="310.38" stroke="#000" stroke-width="1.2"/>
<path d="M114.55 306.43H118.95L116.75 310.43Z" fill="#000"/>
<line x1="102.75" y1="316.9" x2="140.5" y2="316.9" stroke="#000" stroke-width="1.25"/>
<line x1="102.75" y1="314.75" x2="102.75" y2="319.05" stroke="#000" stroke-width="1.2"/>
<line x1="140.5" y1="314.75" x2="140.5" y2="319.05" stroke="#000" stroke-width="1.2"/>
<path d="M118.55 315.1H122.95L120.75 319.1Z" fill="#000"/>
<line x1="85.5" y1="325.57" x2="147.5" y2="325.57" stroke="#000" stroke-width="1.25"/>
<line x1="85.5" y1="323.42" x2="85.5" y2="327.72" stroke="#000" stroke-width="1.2"/>
<line x1="147.5" y1="323.42" x2="147.5" y2="327.72" stroke="#000" stroke-width="1.2"/>
<path d="M111.8 323.77H116.2L114 327.77Z" fill="#000"/>
<line x1="100.5" y1="334.24" x2="130" y2="334.24" stroke="#000" stroke-width="1.25"/>
<line x1="100.5" y1="332.09" x2="100.5" y2="336.39" stroke="#000" stroke-width="1.2"/>
<line x1="130" y1="332.09" x2="130" y2="336.39" stroke="#000" stroke-width="1.2"/>
<path d="M112.8 332.44H117.2L115 336.44Z" fill="#000"/>
<line x1="102.75" y1="342.91" x2="147" y2="342.91" stroke="#000" stroke-width="1.25"/>
<line x1="102.75" y1="340.76" x2="102.75" y2="345.06" stroke="#000" stroke-width="1.2"/>
<line x1="147" y1="340.76" x2="147" y2="345.06" stroke="#000" stroke-width="1.2"/>
<path d="M121.3 341.11H125.7L123.5 345.11Z" fill="#000"/>
<line x1="102.75" y1="351.58" x2="128.25" y2="351.58" stroke="#000" stroke-width="1.25"/>
<line x1="102.75" y1="349.43" x2="102.75" y2="353.73" stroke="#000" stroke-width="1.2"/>
<line x1="128.25" y1="349.43" x2="128.25" y2="353.73" stroke="#000" stroke-width="1.2"/>
<path d="M112.3 349.78H116.7L114.5 353.78Z" fill="#000"/>
<line x1="99.25" y1="360.25" x2="160.5" y2="360.25" stroke="#000" stroke-width="1.25"/>
<line x1="99.25" y1="358.1" x2="99.25" y2="362.4" stroke="#000" stroke-width="1.2"/>
<line x1="160.5" y1="358.1" x2="160.5" y2="362.4" stroke="#000" stroke-width="1.2"/>
<path d="M125.3 358.45H129.7L127.5 362.45Z" fill="#000"/>
<rect x="164.4" y="216.5" width="49.3" height="148.38" fill="#fff" stroke="none" stroke-width="1"/>
<rect x="164.4" y="295.52" width="19.2" height="8.67" fill="#cdcdcd" stroke="none" stroke-width="1"/>
<line x1="164.4" y1="225.6" x2="213.7" y2="225.6" stroke="#1a1a1a" stroke-width="1.7"/>
<line x1="164.4" y1="234.83" x2="183.6" y2="234.83" stroke="#1a1a1a" stroke-width="1.7"/>
<line x1="164.4" y1="243.5" x2="183.6" y2="243.5" stroke="#1a1a1a" stroke-width="1.7"/>
<line x1="164.4" y1="252.17" x2="213.7" y2="252.17" stroke="#1a1a1a" stroke-width="1.7"/>
<line x1="183.6" y1="225.6" x2="183.6" y2="252.17" stroke="#111" stroke-width="1.1"/>
<line x1="164.4" y1="260.84" x2="213.7" y2="260.84" stroke="#1a1a1a" stroke-width="1.7"/>
<line x1="164.4" y1="269.51" x2="183.6" y2="269.51" stroke="#1a1a1a" stroke-width="1.7"/>
<line x1="164.4" y1="278.19" x2="183.6" y2="278.19" stroke="#1a1a1a" stroke-width="1.7"/>
<line x1="164.4" y1="286.86" x2="213.7" y2="286.86" stroke="#1a1a1a" stroke-width="1.7"/>
<line x1="183.6" y1="260.84" x2="183.6" y2="286.86" stroke="#111" stroke-width="1.1"/>
<line x1="164.4" y1="295.52" x2="213.7" y2="295.52" stroke="#1a1a1a" stroke-width="1.7"/>
<line x1="164.4" y1="304.19" x2="183.6" y2="304.19" stroke="#1a1a1a" stroke-width="1.7"/>
<line x1="164.4" y1="312.87" x2="183.6" y2="312.87" stroke="#1a1a1a" stroke-width="1.7"/>
<line x1="164.4" y1="321.53" x2="213.7" y2="321.53" stroke="#1a1a1a" stroke-width="1.7"/>
<line x1="183.6" y1="295.52" x2="183.6" y2="321.53" stroke="#111" stroke-width="1.1"/>
<line x1="164.4" y1="330.2" x2="213.7" y2="330.2" stroke="#1a1a1a" stroke-width="1.7"/>
<line x1="164.4" y1="338.88" x2="183.6" y2="338.88" stroke="#1a1a1a" stroke-width="1.7"/>
<line x1="164.4" y1="347.54" x2="183.6" y2="347.54" stroke="#1a1a1a" stroke-width="1.7"/>
<line x1="164.4" y1="356.22" x2="213.7" y2="356.22" stroke="#1a1a1a" stroke-width="1.7"/>
<line x1="183.6" y1="330.2" x2="183.6" y2="356.22" stroke="#111" stroke-width="1.1"/>
<rect x="164.4" y="216.5" width="49.3" height="148.38" fill="none" stroke="#111" stroke-width="1.2"/>
<text x="189.55" y="223.35" font-size="6.4" text-anchor="middle" class="b h"><tspan font-style="italic">P</tspan> value</text>
<text x="174" y="232.87" font-size="6.3" text-anchor="middle" class="t">.63</text>
<text x="174" y="241.82" font-size="6.3" text-anchor="middle" class="t">.32</text>
<text x="174" y="250.49" font-size="6.3" text-anchor="middle" class="t">.51</text>
<text x="198.65" y="233.12" font-size="6.3" text-anchor="middle" class="t">−/− vs all</text>
<text x="198.65" y="241.02" font-size="6.3" text-anchor="middle" class="t">+ =</text>
<text x="198.65" y="248.92" font-size="6.3" text-anchor="middle" class="t">.79</text>
<text x="189.05" y="259.16" font-size="6.3" text-anchor="middle" class="t">.40</text>
<text x="174" y="267.83" font-size="6.3" text-anchor="middle" class="t">.08</text>
<text x="174" y="276.5" font-size="6.3" text-anchor="middle" class="t">.09</text>
<text x="174" y="285.17" font-size="6.3" text-anchor="middle" class="t">.12</text>
<text x="198.65" y="267.8" font-size="6.3" text-anchor="middle" class="t">−/− vs all</text>
<text x="198.65" y="275.7" font-size="6.3" text-anchor="middle" class="t">+ =</text>
<text x="198.65" y="283.6" font-size="6.3" text-anchor="middle" class="t">.24</text>
<text x="189.05" y="293.84" font-size="6.3" text-anchor="middle" class="t">.54</text>
<text x="174" y="302.51" font-size="6.3" text-anchor="middle" class="t">.02</text>
<text x="174" y="311.18" font-size="6.3" text-anchor="middle" class="t">.65</text>
<text x="174" y="319.85" font-size="6.3" text-anchor="middle" class="t">.99</text>
<text x="198.65" y="302.48" font-size="6.3" text-anchor="middle" class="t">−/− vs all</text>
<text x="198.65" y="310.38" font-size="6.3" text-anchor="middle" class="t">+ =</text>
<text x="198.65" y="318.28" font-size="6.3" text-anchor="middle" class="t">.08</text>
<text x="189.05" y="328.52" font-size="6.3" text-anchor="middle" class="t">.54</text>
<text x="174" y="337.19" font-size="6.3" text-anchor="middle" class="t">.50</text>
<text x="174" y="345.86" font-size="6.3" text-anchor="middle" class="t">.81</text>
<text x="174" y="354.53" font-size="6.3" text-anchor="middle" class="t">.37</text>
<text x="198.65" y="337.16" font-size="6.3" text-anchor="middle" class="t">−/− vs all</text>
<text x="198.65" y="345.06" font-size="6.3" text-anchor="middle" class="t">+ =</text>
<text x="198.65" y="352.96" font-size="6.3" text-anchor="middle" class="t">.72</text>
<text x="189.05" y="363.2" font-size="6.3" text-anchor="middle" class="t">.73</text>
</g>
<g id="panel-D">
<text x="251.3" y="211.7" font-size="11.6" text-anchor="start" class="b">D</text>
<text x="398.3" y="212" font-size="9.75" text-anchor="middle" class="b">Chronic GVHD</text>
<text x="342" y="233.15" font-size="8.15" text-anchor="end" class="n">AML BM/PB +/+</text>
<text x="342" y="240.37" font-size="8.15" text-anchor="end" class="n">+/−</text>
<text x="342" y="247.59" font-size="8.15" text-anchor="end" class="n">−/+</text>
<text x="342" y="254.81" font-size="8.15" text-anchor="end" class="n">Reactivation</text>
<text x="342" y="262.03" font-size="8.15" text-anchor="end" class="n">ALL BM +/+</text>
<text x="342" y="269.25" font-size="8.15" text-anchor="end" class="n">+/−</text>
<text x="342" y="276.47" font-size="8.15" text-anchor="end" class="n">−/+</text>
<text x="342" y="283.69" font-size="8.15" text-anchor="end" class="n">ALL PB +/+</text>
<text x="342" y="290.91" font-size="8.15" text-anchor="end" class="n">+/−</text>
<text x="342" y="298.13" font-size="8.15" text-anchor="end" class="n">−/+</text>
<text x="342" y="305.35" font-size="8.15" text-anchor="end" class="n">Reactivation</text>
<text x="342" y="312.57" font-size="8.15" text-anchor="end" class="n">CML BM/PB +/+</text>
<text x="342" y="319.79" font-size="8.15" text-anchor="end" class="n">+\−</text>
<text x="342" y="327.01" font-size="8.15" text-anchor="end" class="n">−/+</text>
<text x="342" y="334.23" font-size="8.15" text-anchor="end" class="n">Reactivation</text>
<text x="342" y="341.45" font-size="8.15" text-anchor="end" class="n">MDS BM/PB +/+</text>
<text x="342" y="348.67" font-size="8.15" text-anchor="end" class="n">+/−</text>
<text x="342" y="355.89" font-size="8.15" text-anchor="end" class="n">−/+</text>
<text x="342" y="363.11" font-size="8.15" text-anchor="end" class="n">Reactivation</text>
<line x1="348.7" y1="226" x2="348.7" y2="365.3" stroke="#000" stroke-width="1.3"/>
<line x1="345.7" y1="230.5" x2="348.7" y2="230.5" stroke="#111" stroke-width="1"/>
<line x1="345.7" y1="237.72" x2="348.7" y2="237.72" stroke="#111" stroke-width="1"/>
<line x1="345.7" y1="244.94" x2="348.7" y2="244.94" stroke="#111" stroke-width="1"/>
<line x1="345.7" y1="252.16" x2="348.7" y2="252.16" stroke="#111" stroke-width="1"/>
<line x1="345.7" y1="259.38" x2="348.7" y2="259.38" stroke="#111" stroke-width="1"/>
<line x1="345.7" y1="266.6" x2="348.7" y2="266.6" stroke="#111" stroke-width="1"/>
<line x1="345.7" y1="273.82" x2="348.7" y2="273.82" stroke="#111" stroke-width="1"/>
<line x1="345.7" y1="281.04" x2="348.7" y2="281.04" stroke="#111" stroke-width="1"/>
<line x1="345.7" y1="288.26" x2="348.7" y2="288.26" stroke="#111" stroke-width="1"/>
<line x1="345.7" y1="295.48" x2="348.7" y2="295.48" stroke="#111" stroke-width="1"/>
<line x1="345.7" y1="302.7" x2="348.7" y2="302.7" stroke="#111" stroke-width="1"/>
<line x1="345.7" y1="309.92" x2="348.7" y2="309.92" stroke="#111" stroke-width="1"/>
<line x1="345.7" y1="317.14" x2="348.7" y2="317.14" stroke="#111" stroke-width="1"/>
<line x1="345.7" y1="324.36" x2="348.7" y2="324.36" stroke="#111" stroke-width="1"/>
<line x1="345.7" y1="331.58" x2="348.7" y2="331.58" stroke="#111" stroke-width="1"/>
<line x1="345.7" y1="338.8" x2="348.7" y2="338.8" stroke="#111" stroke-width="1"/>
<line x1="345.7" y1="346.02" x2="348.7" y2="346.02" stroke="#111" stroke-width="1"/>
<line x1="345.7" y1="353.24" x2="348.7" y2="353.24" stroke="#111" stroke-width="1"/>
<line x1="345.7" y1="360.46" x2="348.7" y2="360.46" stroke="#111" stroke-width="1"/>
<line x1="348.05" y1="364.8" x2="451.7" y2="364.8" stroke="#000" stroke-width="1.3"/>
<line x1="349" y1="364.8" x2="349" y2="367.6" stroke="#111" stroke-width="1.1"/>
<text x="348.4" y="378.1" font-size="8" text-anchor="middle" class="n">0.5</text>
<line x1="373.2" y1="364.8" x2="373.2" y2="367.6" stroke="#111" stroke-width="1.1"/>
<text x="372.6" y="378.1" font-size="8" text-anchor="middle" class="n">1.0</text>
<line x1="397.4" y1="364.8" x2="397.4" y2="367.6" stroke="#111" stroke-width="1.1"/>
<text x="396.8" y="378.1" font-size="8" text-anchor="middle" class="n">1.5</text>
<line x1="421.7" y1="364.8" x2="421.7" y2="367.6" stroke="#111" stroke-width="1.1"/>
<text x="421.1" y="378.1" font-size="8" text-anchor="middle" class="n">2.0</text>
<line x1="445.6" y1="364.8" x2="445.6" y2="367.6" stroke="#111" stroke-width="1.1"/>
<text x="445" y="378.1" font-size="8" text-anchor="middle" class="n">2.5</text>
<line x1="373.2" y1="226" x2="373.2" y2="364.8" stroke="#000" stroke-width="1.5" stroke-dasharray="1 1.2"/>
<line x1="366.75" y1="230.5" x2="376.5" y2="230.5" stroke="#000" stroke-width="1.25"/>
<line x1="366.75" y1="228.35" x2="366.75" y2="232.65" stroke="#000" stroke-width="1.2"/>
<line x1="376.5" y1="228.35" x2="376.5" y2="232.65" stroke="#000" stroke-width="1.2"/>
<path d="M369.8 228.7H374.2L372 232.7Z" fill="#000"/>
<line x1="369" y1="237.72" x2="383" y2="237.72" stroke="#000" stroke-width="1.25"/>
<line x1="369" y1="235.57" x2="369" y2="239.87" stroke="#000" stroke-width="1.2"/>
<line x1="383" y1="235.57" x2="383" y2="239.87" stroke="#000" stroke-width="1.2"/>
<path d="M373.8 235.92H378.2L376 239.92Z" fill="#000"/>
<line x1="366" y1="244.94" x2="376.5" y2="244.94" stroke="#000" stroke-width="1.25"/>
<line x1="366" y1="242.79" x2="366" y2="247.09" stroke="#000" stroke-width="1.2"/>
<line x1="376.5" y1="242.79" x2="376.5" y2="247.09" stroke="#000" stroke-width="1.2"/>
<path d="M368.8 243.14H373.2L371 247.14Z" fill="#000"/>
<line x1="367.5" y1="252.16" x2="377.5" y2="252.16" stroke="#000" stroke-width="1.25"/>
<line x1="367.5" y1="250.01" x2="367.5" y2="254.31" stroke="#000" stroke-width="1.2"/>
<line x1="377.5" y1="250.01" x2="377.5" y2="254.31" stroke="#000" stroke-width="1.2"/>
<path d="M370.3 250.36H374.7L372.5 254.36Z" fill="#000"/>
<line x1="359.5" y1="259.38" x2="393.75" y2="259.38" stroke="#000" stroke-width="1.25"/>
<line x1="359.5" y1="257.23" x2="359.5" y2="261.53" stroke="#000" stroke-width="1.2"/>
<line x1="393.75" y1="257.23" x2="393.75" y2="261.53" stroke="#000" stroke-width="1.2"/>
<path d="M374.3 257.58H378.7L376.5 261.58Z" fill="#000"/>
<line x1="380" y1="266.6" x2="442" y2="266.6" stroke="#000" stroke-width="1.25"/>
<line x1="380" y1="264.45" x2="380" y2="268.75" stroke="#000" stroke-width="1.2"/>
<line x1="442" y1="264.45" x2="442" y2="268.75" stroke="#000" stroke-width="1.2"/>
<path d="M409.05 264.8H413.45L411.25 268.8Z" fill="#000"/>
<line x1="355" y1="273.82" x2="388" y2="273.82" stroke="#000" stroke-width="1.25"/>
<line x1="355" y1="271.67" x2="355" y2="275.97" stroke="#000" stroke-width="1.2"/>
<line x1="388" y1="271.67" x2="388" y2="275.97" stroke="#000" stroke-width="1.2"/>
<path d="M369.3 272.02H373.7L371.5 276.02Z" fill="#000"/>
<line x1="373.75" y1="281.04" x2="401.75" y2="281.04" stroke="#000" stroke-width="1.25"/>
<line x1="373.75" y1="278.89" x2="373.75" y2="283.19" stroke="#000" stroke-width="1.2"/>
<line x1="401.75" y1="278.89" x2="401.75" y2="283.19" stroke="#000" stroke-width="1.2"/>
<path d="M386.05 279.24H390.45L388.25 283.24Z" fill="#000"/>
<line x1="360" y1="288.26" x2="386.75" y2="288.26" stroke="#000" stroke-width="1.25"/>
<line x1="360" y1="286.11" x2="360" y2="290.41" stroke="#000" stroke-width="1.2"/>
<line x1="386.75" y1="286.11" x2="386.75" y2="290.41" stroke="#000" stroke-width="1.2"/>
<path d="M371.05 286.46H375.45L373.25 290.46Z" fill="#000"/>
<line x1="370.75" y1="295.48" x2="398.25" y2="295.48" stroke="#000" stroke-width="1.25"/>
<line x1="370.75" y1="293.33" x2="370.75" y2="297.63" stroke="#000" stroke-width="1.2"/>
<line x1="398.25" y1="293.33" x2="398.25" y2="297.63" stroke="#000" stroke-width="1.2"/>
<path d="M382.05 293.68H386.45L384.25 297.68Z" fill="#000"/>
<line x1="355" y1="302.7" x2="375.75" y2="302.7" stroke="#000" stroke-width="1.25"/>
<line x1="355" y1="300.55" x2="355" y2="304.85" stroke="#000" stroke-width="1.2"/>
<line x1="375.75" y1="300.55" x2="375.75" y2="304.85" stroke="#000" stroke-width="1.2"/>
<path d="M363.3 300.9H367.7L365.5 304.9Z" fill="#000"/>
<line x1="367" y1="309.92" x2="389.5" y2="309.92" stroke="#000" stroke-width="1.25"/>
<line x1="367" y1="307.77" x2="367" y2="312.07" stroke="#000" stroke-width="1.2"/>
<line x1="389.5" y1="307.77" x2="389.5" y2="312.07" stroke="#000" stroke-width="1.2"/>
<path d="M376.05 308.12H380.45L378.25 312.12Z" fill="#000"/>
<line x1="356.5" y1="317.14" x2="385.5" y2="317.14" stroke="#000" stroke-width="1.25"/>
<line x1="356.5" y1="314.99" x2="356.5" y2="319.29" stroke="#000" stroke-width="1.2"/>
<line x1="385.5" y1="314.99" x2="385.5" y2="319.29" stroke="#000" stroke-width="1.2"/>
<path d="M369.05 315.34H373.45L371.25 319.34Z" fill="#000"/>
<line x1="356.5" y1="324.36" x2="376.5" y2="324.36" stroke="#000" stroke-width="1.25"/>
<line x1="356.5" y1="322.21" x2="356.5" y2="326.51" stroke="#000" stroke-width="1.2"/>
<line x1="376.5" y1="322.21" x2="376.5" y2="326.51" stroke="#000" stroke-width="1.2"/>
<path d="M364.05 322.56H368.45L366.25 326.56Z" fill="#000"/>
<line x1="373.75" y1="331.58" x2="399.5" y2="331.58" stroke="#000" stroke-width="1.25"/>
<line x1="373.75" y1="329.43" x2="373.75" y2="333.73" stroke="#000" stroke-width="1.2"/>
<line x1="399.5" y1="329.43" x2="399.5" y2="333.73" stroke="#000" stroke-width="1.2"/>
<path d="M384.55 329.78H388.95L386.75 333.78Z" fill="#000"/>
<line x1="360.5" y1="338.8" x2="380.75" y2="338.8" stroke="#000" stroke-width="1.25"/>
<line x1="360.5" y1="336.65" x2="360.5" y2="340.95" stroke="#000" stroke-width="1.2"/>
<line x1="380.75" y1="336.65" x2="380.75" y2="340.95" stroke="#000" stroke-width="1.2"/>
<path d="M368.8 337H373.2L371 341Z" fill="#000"/>
<line x1="355.25" y1="346.02" x2="380.25" y2="346.02" stroke="#000" stroke-width="1.25"/>
<line x1="355.25" y1="343.87" x2="355.25" y2="348.17" stroke="#000" stroke-width="1.2"/>
<line x1="380.25" y1="343.87" x2="380.25" y2="348.17" stroke="#000" stroke-width="1.2"/>
<path d="M365.55 344.22H369.95L367.75 348.22Z" fill="#000"/>
<line x1="359.5" y1="353.24" x2="377.5" y2="353.24" stroke="#000" stroke-width="1.25"/>
<line x1="359.5" y1="351.09" x2="359.5" y2="355.39" stroke="#000" stroke-width="1.2"/>
<line x1="377.5" y1="351.09" x2="377.5" y2="355.39" stroke="#000" stroke-width="1.2"/>
<path d="M366.05 351.44H370.45L368.25 355.44Z" fill="#000"/>
<line x1="368.25" y1="360.46" x2="390.75" y2="360.46" stroke="#000" stroke-width="1.25"/>
<line x1="368.25" y1="358.31" x2="368.25" y2="362.61" stroke="#000" stroke-width="1.2"/>
<line x1="390.75" y1="358.31" x2="390.75" y2="362.61" stroke="#000" stroke-width="1.2"/>
<path d="M377.3 358.66H381.7L379.5 362.66Z" fill="#000"/>
<rect x="451.75" y="216.6" width="60.95" height="148.17" fill="#fff" stroke="none" stroke-width="1"/>
<rect x="481.25" y="254.53" width="31.45" height="22.05" fill="#cdcdcd" stroke="none" stroke-width="1"/>
<rect x="451.75" y="261.88" width="29.5" height="7.35" fill="#cdcdcd" stroke="none" stroke-width="1"/>
<rect x="481.25" y="276.57" width="31.45" height="22.05" fill="#cdcdcd" stroke="none" stroke-width="1"/>
<rect x="451.75" y="276.57" width="29.5" height="7.35" fill="#cdcdcd" stroke="none" stroke-width="1"/>
<rect x="451.75" y="328.02" width="60.95" height="7.35" fill="#cdcdcd" stroke="none" stroke-width="1"/>
<line x1="451.75" y1="225.12" x2="512.7" y2="225.12" stroke="#111" stroke-width="1.3"/>
<line x1="451.75" y1="232.47" x2="481.25" y2="232.47" stroke="#111" stroke-width="1.3"/>
<line x1="451.75" y1="239.82" x2="481.25" y2="239.82" stroke="#111" stroke-width="1.3"/>
<line x1="451.75" y1="247.18" x2="512.7" y2="247.18" stroke="#111" stroke-width="1.3"/>
<line x1="481.25" y1="225.12" x2="481.25" y2="247.18" stroke="#111" stroke-width="1.1"/>
<line x1="451.75" y1="254.53" x2="512.7" y2="254.53" stroke="#111" stroke-width="1.3"/>
<line x1="451.75" y1="261.88" x2="481.25" y2="261.88" stroke="#111" stroke-width="1.3"/>
<line x1="451.75" y1="269.23" x2="481.25" y2="269.23" stroke="#111" stroke-width="1.3"/>
<line x1="451.75" y1="276.57" x2="512.7" y2="276.57" stroke="#111" stroke-width="1.3"/>
<line x1="481.25" y1="254.53" x2="481.25" y2="276.57" stroke="#111" stroke-width="1.1"/>
<line x1="451.75" y1="283.93" x2="481.25" y2="283.93" stroke="#111" stroke-width="1.3"/>
<line x1="451.75" y1="291.27" x2="481.25" y2="291.27" stroke="#111" stroke-width="1.3"/>
<line x1="451.75" y1="298.62" x2="512.7" y2="298.62" stroke="#111" stroke-width="1.3"/>
<line x1="481.25" y1="276.57" x2="481.25" y2="298.62" stroke="#111" stroke-width="1.1"/>
<line x1="451.75" y1="305.98" x2="512.7" y2="305.98" stroke="#111" stroke-width="1.3"/>
<line x1="451.75" y1="313.32" x2="481.25" y2="313.32" stroke="#111" stroke-width="1.3"/>
<line x1="451.75" y1="320.68" x2="481.25" y2="320.68" stroke="#111" stroke-width="1.3"/>
<line x1="451.75" y1="328.02" x2="512.7" y2="328.02" stroke="#111" stroke-width="1.3"/>
<line x1="481.25" y1="305.98" x2="481.25" y2="328.02" stroke="#111" stroke-width="1.1"/>
<line x1="451.75" y1="335.38" x2="512.7" y2="335.38" stroke="#111" stroke-width="1.3"/>
<line x1="451.75" y1="342.73" x2="481.25" y2="342.73" stroke="#111" stroke-width="1.3"/>
<line x1="451.75" y1="350.07" x2="481.25" y2="350.07" stroke="#111" stroke-width="1.3"/>
<line x1="451.75" y1="357.42" x2="512.7" y2="357.42" stroke="#111" stroke-width="1.3"/>
<line x1="481.25" y1="335.38" x2="481.25" y2="357.42" stroke="#111" stroke-width="1.1"/>
<rect x="451.75" y="216.6" width="60.95" height="148.17" fill="none" stroke="#111" stroke-width="1.2"/>
<text x="481.62" y="223.16" font-size="6.4" text-anchor="middle" class="b h"><tspan font-style="italic">P</tspan> value</text>
<text x="466.5" y="231.55" font-size="6.3" text-anchor="middle" class="t">.56</text>
<text x="466.5" y="238.9" font-size="6.3" text-anchor="middle" class="t">.41</text>
<text x="466.5" y="246.25" font-size="6.3" text-anchor="middle" class="t">.45</text>
<text x="496.98" y="235.15" font-size="6.3" text-anchor="middle" class="t">−/− vs all</text>
<text x="496.98" y="243.05" font-size="6.3" text-anchor="middle" class="t">+ = .51</text>
<text x="482.23" y="253.6" font-size="6.3" text-anchor="middle" class="t">.72</text>
<text x="466.5" y="260.95" font-size="6.3" text-anchor="middle" class="t">.82</text>
<text x="466.5" y="268.3" font-size="6.3" text-anchor="middle" class="t">.004</text>
<text x="466.5" y="275.65" font-size="6.3" text-anchor="middle" class="t">.68</text>
<text x="496.98" y="264.55" font-size="6.3" text-anchor="middle" class="t">−/− vs all</text>
<text x="496.98" y="272.45" font-size="6.3" text-anchor="middle" class="t">+ = .006</text>
<text x="466.5" y="283" font-size="6.3" text-anchor="middle" class="t">.01</text>
<text x="466.5" y="290.35" font-size="6.3" text-anchor="middle" class="t">.91</text>
<text x="466.5" y="297.7" font-size="6.3" text-anchor="middle" class="t">.09</text>
<text x="496.98" y="286.6" font-size="6.3" text-anchor="middle" class="t">−/− vs all</text>
<text x="496.98" y="294.5" font-size="6.3" text-anchor="middle" class="t">+ = .04</text>
<text x="482.23" y="305.05" font-size="6.3" text-anchor="middle" class="t">.61</text>
<text x="466.5" y="312.4" font-size="6.3" text-anchor="middle" class="t">.41</text>
<text x="466.5" y="319.75" font-size="6.3" text-anchor="middle" class="t">.65</text>
<text x="466.5" y="327.1" font-size="6.3" text-anchor="middle" class="t">.19</text>
<text x="496.98" y="316" font-size="6.3" text-anchor="middle" class="t">−/− vs all</text>
<text x="496.98" y="323.9" font-size="6.3" text-anchor="middle" class="t">+ = .22</text>
<text x="482.23" y="334.45" font-size="6.3" text-anchor="middle" class="t">.02</text>
<text x="466.5" y="341.8" font-size="6.3" text-anchor="middle" class="t">.58</text>
<text x="466.5" y="349.15" font-size="6.3" text-anchor="middle" class="t">.36</text>
<text x="466.5" y="356.5" font-size="6.3" text-anchor="middle" class="t">.30</text>
<text x="496.98" y="345.4" font-size="6.3" text-anchor="middle" class="t">−/− vs all</text>
<text x="496.98" y="353.3" font-size="6.3" text-anchor="middle" class="t">+ = .69</text>
<text x="482.23" y="363.85" font-size="6.3" text-anchor="middle" class="t">.28</text>
</g>
<g id="panel-E">
<text x="7" y="406.3" font-size="11.6" text-anchor="start" class="b">E</text>
<text x="120.4" y="406.6" font-size="9.75" text-anchor="middle" class="b">Disease free survival (DFS)</text>
<text x="76.8" y="455.1" font-size="8.15" text-anchor="end" class="n">AML BM/PB +/+</text>
<text x="76.8" y="463.18" font-size="8.15" text-anchor="end" class="n">+/−</text>
<text x="76.8" y="471.26" font-size="8.15" text-anchor="end" class="n">−/+</text>
<text x="76.8" y="479.34" font-size="8.15" text-anchor="end" class="n">Reactivation</text>
<text x="76.8" y="487.42" font-size="8.15" text-anchor="end" class="n">ALL BM/PB +/+</text>
<text x="76.8" y="495.5" font-size="8.15" text-anchor="end" class="n">+/−</text>
<text x="76.8" y="503.58" font-size="8.15" text-anchor="end" class="n">−/+</text>
<text x="76.8" y="511.66" font-size="8.15" text-anchor="end" class="n">Reactivation</text>
<text x="76.8" y="519.74" font-size="8.15" text-anchor="end" class="n">CML BM/PB +/+</text>
<text x="76.8" y="527.82" font-size="8.15" text-anchor="end" class="n">+\−</text>
<text x="76.8" y="535.9" font-size="8.15" text-anchor="end" class="n">−/+</text>
<text x="76.8" y="543.98" font-size="8.15" text-anchor="end" class="n">Reactivation</text>
<text x="76.8" y="552.06" font-size="8.15" text-anchor="end" class="n">MDS BM/PB +/+</text>
<text x="76.8" y="560.14" font-size="8.15" text-anchor="end" class="n">+/−</text>
<text x="76.8" y="568.22" font-size="8.15" text-anchor="end" class="n">−/+</text>
<text x="76.8" y="576.3" font-size="8.15" text-anchor="end" class="n">Reactivation</text>
<line x1="83.4" y1="448.5" x2="83.4" y2="578.1" stroke="#000" stroke-width="1.3"/>
<line x1="80.4" y1="452.2" x2="83.4" y2="452.2" stroke="#111" stroke-width="1"/>
<line x1="80.4" y1="460.28" x2="83.4" y2="460.28" stroke="#111" stroke-width="1"/>
<line x1="80.4" y1="468.36" x2="83.4" y2="468.36" stroke="#111" stroke-width="1"/>
<line x1="80.4" y1="476.44" x2="83.4" y2="476.44" stroke="#111" stroke-width="1"/>
<line x1="80.4" y1="484.52" x2="83.4" y2="484.52" stroke="#111" stroke-width="1"/>
<line x1="80.4" y1="492.6" x2="83.4" y2="492.6" stroke="#111" stroke-width="1"/>
<line x1="80.4" y1="500.68" x2="83.4" y2="500.68" stroke="#111" stroke-width="1"/>
<line x1="80.4" y1="508.76" x2="83.4" y2="508.76" stroke="#111" stroke-width="1"/>
<line x1="80.4" y1="516.84" x2="83.4" y2="516.84" stroke="#111" stroke-width="1"/>
<line x1="80.4" y1="524.92" x2="83.4" y2="524.92" stroke="#111" stroke-width="1"/>
<line x1="80.4" y1="533" x2="83.4" y2="533" stroke="#111" stroke-width="1"/>
<line x1="80.4" y1="541.08" x2="83.4" y2="541.08" stroke="#111" stroke-width="1"/>
<line x1="80.4" y1="549.16" x2="83.4" y2="549.16" stroke="#111" stroke-width="1"/>
<line x1="80.4" y1="557.24" x2="83.4" y2="557.24" stroke="#111" stroke-width="1"/>
<line x1="80.4" y1="565.32" x2="83.4" y2="565.32" stroke="#111" stroke-width="1"/>
<line x1="80.4" y1="573.4" x2="83.4" y2="573.4" stroke="#111" stroke-width="1"/>
<line x1="82.75" y1="577.6" x2="169.8" y2="577.6" stroke="#000" stroke-width="1.3"/>
<line x1="83.4" y1="577.6" x2="83.4" y2="580.4" stroke="#111" stroke-width="1.1"/>
<text x="83.4" y="590.9" font-size="8" text-anchor="middle" class="n">0.5</text>
<line x1="110.6" y1="577.6" x2="110.6" y2="580.4" stroke="#111" stroke-width="1.1"/>
<text x="110.6" y="590.9" font-size="8" text-anchor="middle" class="n">1.0</text>
<line x1="138.9" y1="577.6" x2="138.9" y2="580.4" stroke="#111" stroke-width="1.1"/>
<text x="138.9" y="590.9" font-size="8" text-anchor="middle" class="n">1.5</text>
<line x1="167" y1="577.6" x2="167" y2="580.4" stroke="#111" stroke-width="1.1"/>
<text x="167" y="590.9" font-size="8" text-anchor="middle" class="n">2.0</text>
<line x1="110.8" y1="450" x2="110.8" y2="577.6" stroke="#000" stroke-width="1.5" stroke-dasharray="1 1.2"/>
<line x1="111" y1="452.2" x2="122.5" y2="452.2" stroke="#000" stroke-width="1.25"/>
<line x1="111" y1="450.05" x2="111" y2="454.35" stroke="#000" stroke-width="1.2"/>
<line x1="122.5" y1="450.05" x2="122.5" y2="454.35" stroke="#000" stroke-width="1.2"/>
<rect x="114" y="450.7" width="3" height="3" rx="0.8" fill="#000"/>
<line x1="107.5" y1="460.28" x2="123.25" y2="460.28" stroke="#000" stroke-width="1.25"/>
<line x1="107.5" y1="458.13" x2="107.5" y2="462.43" stroke="#000" stroke-width="1.2"/>
<line x1="123.25" y1="458.13" x2="123.25" y2="462.43" stroke="#000" stroke-width="1.2"/>
<rect x="113.75" y="458.78" width="3" height="3" rx="0.8" fill="#000"/>
<line x1="115" y1="468.36" x2="128" y2="468.36" stroke="#000" stroke-width="1.25"/>
<line x1="115" y1="466.21" x2="115" y2="470.51" stroke="#000" stroke-width="1.2"/>
<line x1="128" y1="466.21" x2="128" y2="470.51" stroke="#000" stroke-width="1.2"/>
<rect x="119.75" y="466.86" width="3" height="3" rx="0.8" fill="#000"/>
<line x1="115.75" y1="476.44" x2="126.75" y2="476.44" stroke="#000" stroke-width="1.25"/>
<line x1="115.75" y1="474.29" x2="115.75" y2="478.59" stroke="#000" stroke-width="1.2"/>
<line x1="126.75" y1="474.29" x2="126.75" y2="478.59" stroke="#000" stroke-width="1.2"/>
<rect x="119.75" y="474.94" width="3" height="3" rx="0.8" fill="#000"/>
<line x1="118" y1="484.52" x2="141.25" y2="484.52" stroke="#000" stroke-width="1.25"/>
<line x1="118" y1="482.37" x2="118" y2="486.67" stroke="#000" stroke-width="1.2"/>
<line x1="141.25" y1="482.37" x2="141.25" y2="486.67" stroke="#000" stroke-width="1.2"/>
<rect x="127.5" y="483.02" width="3" height="3" rx="0.8" fill="#000"/>
<line x1="97" y1="492.6" x2="120.5" y2="492.6" stroke="#000" stroke-width="1.25"/>
<line x1="97" y1="490.45" x2="97" y2="494.75" stroke="#000" stroke-width="1.2"/>
<line x1="120.5" y1="490.45" x2="120.5" y2="494.75" stroke="#000" stroke-width="1.2"/>
<rect x="107.5" y="491.1" width="3" height="3" rx="0.8" fill="#000"/>
<line x1="103.75" y1="500.68" x2="124.25" y2="500.68" stroke="#000" stroke-width="1.25"/>
<line x1="103.75" y1="498.53" x2="103.75" y2="502.83" stroke="#000" stroke-width="1.2"/>
<line x1="124.25" y1="498.53" x2="124.25" y2="502.83" stroke="#000" stroke-width="1.2"/>
<rect x="112.5" y="499.18" width="3" height="3" rx="0.8" fill="#000"/>
<line x1="125.75" y1="508.76" x2="150" y2="508.76" stroke="#000" stroke-width="1.25"/>
<line x1="125.75" y1="506.61" x2="125.75" y2="510.91" stroke="#000" stroke-width="1.2"/>
<line x1="150" y1="506.61" x2="150" y2="510.91" stroke="#000" stroke-width="1.2"/>
<rect x="136.75" y="507.26" width="3" height="3" rx="0.8" fill="#000"/>
<line x1="106" y1="516.84" x2="130.5" y2="516.84" stroke="#000" stroke-width="1.25"/>
<line x1="106" y1="514.69" x2="106" y2="518.99" stroke="#000" stroke-width="1.2"/>
<line x1="130.5" y1="514.69" x2="130.5" y2="518.99" stroke="#000" stroke-width="1.2"/>
<rect x="116.25" y="515.34" width="3" height="3" rx="0.8" fill="#000"/>
<line x1="95" y1="524.92" x2="126.25" y2="524.92" stroke="#000" stroke-width="1.25"/>
<line x1="95" y1="522.77" x2="95" y2="527.07" stroke="#000" stroke-width="1.2"/>
<line x1="126.25" y1="522.77" x2="126.25" y2="527.07" stroke="#000" stroke-width="1.2"/>
<rect x="109.25" y="523.42" width="3" height="3" rx="0.8" fill="#000"/>
<line x1="105" y1="533" x2="134.25" y2="533" stroke="#000" stroke-width="1.25"/>
<line x1="105" y1="530.85" x2="105" y2="535.15" stroke="#000" stroke-width="1.2"/>
<line x1="134.25" y1="530.85" x2="134.25" y2="535.15" stroke="#000" stroke-width="1.2"/>
<rect x="117.5" y="531.5" width="3" height="3" rx="0.8" fill="#000"/>
<line x1="110.75" y1="541.08" x2="136.75" y2="541.08" stroke="#000" stroke-width="1.25"/>
<line x1="110.75" y1="538.93" x2="110.75" y2="543.23" stroke="#000" stroke-width="1.2"/>
<line x1="136.75" y1="538.93" x2="136.75" y2="543.23" stroke="#000" stroke-width="1.2"/>
<rect x="122" y="539.58" width="3" height="3" rx="0.8" fill="#000"/>
<line x1="98.5" y1="549.16" x2="120" y2="549.16" stroke="#000" stroke-width="1.25"/>
<line x1="98.5" y1="547.01" x2="98.5" y2="551.31" stroke="#000" stroke-width="1.2"/>
<line x1="120" y1="547.01" x2="120" y2="551.31" stroke="#000" stroke-width="1.2"/>
<rect x="107.5" y="547.66" width="3" height="3" rx="0.8" fill="#000"/>
<line x1="106.75" y1="557.24" x2="141.25" y2="557.24" stroke="#000" stroke-width="1.25"/>
<line x1="106.75" y1="555.09" x2="106.75" y2="559.39" stroke="#000" stroke-width="1.2"/>
<line x1="141.25" y1="555.09" x2="141.25" y2="559.39" stroke="#000" stroke-width="1.2"/>
<rect x="122" y="555.74" width="3" height="3" rx="0.8" fill="#000"/>
<line x1="102.75" y1="565.32" x2="125" y2="565.32" stroke="#000" stroke-width="1.25"/>
<line x1="102.75" y1="563.17" x2="102.75" y2="567.47" stroke="#000" stroke-width="1.2"/>
<line x1="125" y1="563.17" x2="125" y2="567.47" stroke="#000" stroke-width="1.2"/>
<rect x="112.5" y="563.82" width="3" height="3" rx="0.8" fill="#000"/>
<line x1="115" y1="573.4" x2="140.5" y2="573.4" stroke="#000" stroke-width="1.25"/>
<line x1="115" y1="571.25" x2="115" y2="575.55" stroke="#000" stroke-width="1.2"/>
<line x1="140.5" y1="571.25" x2="140.5" y2="575.55" stroke="#000" stroke-width="1.2"/>
<rect x="126" y="571.9" width="3" height="3" rx="0.8" fill="#000"/>
<rect x="169.8" y="437.4" width="50.8" height="140" fill="#fff" stroke="none" stroke-width="1"/>
<rect x="189.4" y="447.83" width="31.2" height="23.82" fill="#cdcdcd" stroke="none" stroke-width="1"/>
<rect x="169.8" y="447.83" width="19.6" height="7.94" fill="#cdcdcd" stroke="none" stroke-width="1"/>
<rect x="169.8" y="463.71" width="19.6" height="7.94" fill="#cdcdcd" stroke="none" stroke-width="1"/>
<rect x="169.8" y="471.65" width="50.8" height="7.94" fill="#cdcdcd" stroke="none" stroke-width="1"/>
<rect x="189.4" y="479.59" width="31.2" height="23.82" fill="#cdcdcd" stroke="none" stroke-width="1"/>
<rect x="169.8" y="479.59" width="19.6" height="7.94" fill="#cdcdcd" stroke="none" stroke-width="1"/>
<rect x="169.8" y="503.41" width="50.8" height="7.94" fill="#cdcdcd" stroke="none" stroke-width="1"/>
<rect x="169.8" y="566.93" width="50.8" height="10.47" fill="#cdcdcd" stroke="none" stroke-width="1"/>
<line x1="169.8" y1="447.83" x2="220.6" y2="447.83" stroke="#1a1a1a" stroke-width="1.7"/>
<line x1="169.8" y1="455.77" x2="189.4" y2="455.77" stroke="#1a1a1a" stroke-width="1.7"/>
<line x1="169.8" y1="463.71" x2="189.4" y2="463.71" stroke="#1a1a1a" stroke-width="1.7"/>
<line x1="169.8" y1="471.65" x2="220.6" y2="471.65" stroke="#1a1a1a" stroke-width="1.7"/>
<line x1="189.4" y1="447.83" x2="189.4" y2="471.65" stroke="#111" stroke-width="1.1"/>
<line x1="169.8" y1="479.59" x2="220.6" y2="479.59" stroke="#1a1a1a" stroke-width="1.7"/>
<line x1="169.8" y1="487.53" x2="189.4" y2="487.53" stroke="#1a1a1a" stroke-width="1.7"/>
<line x1="169.8" y1="495.47" x2="189.4" y2="495.47" stroke="#1a1a1a" stroke-width="1.7"/>
<line x1="169.8" y1="503.41" x2="220.6" y2="503.41" stroke="#1a1a1a" stroke-width="1.7"/>
<line x1="189.4" y1="479.59" x2="189.4" y2="503.41" stroke="#111" stroke-width="1.1"/>
<line x1="169.8" y1="511.35" x2="220.6" y2="511.35" stroke="#1a1a1a" stroke-width="1.7"/>
<line x1="169.8" y1="519.29" x2="189.4" y2="519.29" stroke="#1a1a1a" stroke-width="1.7"/>
<line x1="169.8" y1="527.23" x2="189.4" y2="527.23" stroke="#1a1a1a" stroke-width="1.7"/>
<line x1="169.8" y1="535.17" x2="220.6" y2="535.17" stroke="#1a1a1a" stroke-width="1.7"/>
<line x1="189.4" y1="511.35" x2="189.4" y2="535.17" stroke="#111" stroke-width="1.1"/>
<line x1="169.8" y1="543.11" x2="220.6" y2="543.11" stroke="#1a1a1a" stroke-width="1.7"/>
<line x1="169.8" y1="551.05" x2="189.4" y2="551.05" stroke="#1a1a1a" stroke-width="1.7"/>
<line x1="169.8" y1="558.99" x2="189.4" y2="558.99" stroke="#1a1a1a" stroke-width="1.7"/>
<line x1="169.8" y1="566.93" x2="220.6" y2="566.93" stroke="#1a1a1a" stroke-width="1.7"/>
<line x1="189.4" y1="543.11" x2="189.4" y2="566.93" stroke="#111" stroke-width="1.1"/>
<rect x="169.8" y="437.4" width="50.8" height="140" fill="none" stroke="#111" stroke-width="1.2"/>
<text x="196.4" y="444.92" font-size="6.4" text-anchor="middle" class="b h"><tspan font-style="italic">P</tspan> value</text>
<text x="179.6" y="454.35" font-size="6.3" text-anchor="middle" class="t">.049</text>
<text x="179.6" y="462.29" font-size="6.3" text-anchor="middle" class="t">.26</text>
<text x="179.6" y="470.23" font-size="6.3" text-anchor="middle" class="t">.006</text>
<text x="205" y="454.29" font-size="6.3" text-anchor="middle" class="t">−/− vs all</text>
<text x="205" y="462.39" font-size="6.3" text-anchor="middle" class="t">+ =</text>
<text x="205" y="470.49" font-size="6.3" text-anchor="middle" class="t">.007</text>
<text x="195.2" y="478.17" font-size="6.3" text-anchor="middle" class="t">.0001</text>
<text x="179.6" y="486.11" font-size="6.3" text-anchor="middle" class="t">.0006</text>
<text x="179.6" y="494.05" font-size="6.3" text-anchor="middle" class="t">.6</text>
<text x="179.6" y="501.99" font-size="6.3" text-anchor="middle" class="t">.6</text>
<text x="205" y="486.05" font-size="6.3" text-anchor="middle" class="t">−/− vs all</text>
<text x="205" y="494.15" font-size="6.3" text-anchor="middle" class="t">+ =</text>
<text x="205" y="502.25" font-size="6.3" text-anchor="middle" class="t">.0005</text>
<text x="195.2" y="509.93" font-size="6.3" text-anchor="middle" class="t">&lt; .0001</text>
<text x="179.6" y="517.87" font-size="6.3" text-anchor="middle" class="t">.27</text>
<text x="179.6" y="525.81" font-size="6.3" text-anchor="middle" class="t">.83</text>
<text x="179.6" y="533.75" font-size="6.3" text-anchor="middle" class="t">.30</text>
<text x="205" y="517.81" font-size="6.3" text-anchor="middle" class="t">−/− vs all</text>
<text x="205" y="525.91" font-size="6.3" text-anchor="middle" class="t">+ =</text>
<text x="205" y="534.01" font-size="6.3" text-anchor="middle" class="t">.54</text>
<text x="195.2" y="541.69" font-size="6.3" text-anchor="middle" class="t">.055</text>
<text x="179.6" y="549.63" font-size="6.3" text-anchor="middle" class="t">.65</text>
<text x="179.6" y="557.57" font-size="6.3" text-anchor="middle" class="t">.15</text>
<text x="179.6" y="565.51" font-size="6.3" text-anchor="middle" class="t">.67</text>
<text x="205" y="549.57" font-size="6.3" text-anchor="middle" class="t">−/− vs all</text>
<text x="205" y="557.67" font-size="6.3" text-anchor="middle" class="t">+ =</text>
<text x="205" y="565.77" font-size="6.3" text-anchor="middle" class="t">.36</text>
<text x="195.2" y="574.71" font-size="6.3" text-anchor="middle" class="t">.006</text>
</g>
<g id="panel-F">
<text x="247.5" y="406.3" font-size="11.6" text-anchor="start" class="b">F</text>
<text x="388" y="406.6" font-size="9.75" text-anchor="middle" class="b">Overall survival</text>
<text x="324" y="427.4" font-size="8.15" text-anchor="end" class="n">AML BM/PB LR +/+</text>
<text x="324" y="434.54" font-size="8.15" text-anchor="end" class="n">+/−</text>
<text x="324" y="441.68" font-size="8.15" text-anchor="end" class="n">−/+</text>
<text x="324" y="448.82" font-size="8.15" text-anchor="end" class="n">IR ++</text>
<text x="324" y="455.96" font-size="8.15" text-anchor="end" class="n">+/−</text>
<text x="324" y="463.1" font-size="8.15" text-anchor="end" class="n">−/+</text>
<text x="324" y="470.24" font-size="8.15" text-anchor="end" class="n">HR ++</text>
<text x="324" y="477.38" font-size="8.15" text-anchor="end" class="n">+/−</text>
<text x="324" y="484.52" font-size="8.15" text-anchor="end" class="n">−/+</text>
<text x="324" y="491.66" font-size="8.15" text-anchor="end" class="n">Reactivation</text>
<text x="324" y="498.8" font-size="8.15" text-anchor="end" class="n">ALL BM/PB +/+</text>
<text x="324" y="505.94" font-size="8.15" text-anchor="end" class="n">+/−</text>
<text x="324" y="513.08" font-size="8.15" text-anchor="end" class="n">−/+</text>
<text x="324" y="520.22" font-size="8.15" text-anchor="end" class="n">Reactivation</text>
<text x="324" y="527.36" font-size="8.15" text-anchor="end" class="n">CML BM/PB +/+</text>
<text x="324" y="534.5" font-size="8.15" text-anchor="end" class="n">+\−</text>
<text x="324" y="541.64" font-size="8.15" text-anchor="end" class="n">−/+</text>
<text x="324" y="548.78" font-size="8.15" text-anchor="end" class="n">Reactivation</text>
<text x="324" y="555.92" font-size="8.15" text-anchor="end" class="n">MDS BM/PB ++</text>
<text x="324" y="563.06" font-size="8.15" text-anchor="end" class="n">+/−</text>
<text x="324" y="570.2" font-size="8.15" text-anchor="end" class="n">−/+</text>
<text x="324" y="577.34" font-size="8.15" text-anchor="end" class="n">Reactivation</text>
<line x1="332.6" y1="418" x2="332.6" y2="578.1" stroke="#000" stroke-width="1.3"/>
<line x1="329.6" y1="424.15" x2="332.6" y2="424.15" stroke="#111" stroke-width="1"/>
<line x1="329.6" y1="431.29" x2="332.6" y2="431.29" stroke="#111" stroke-width="1"/>
<line x1="329.6" y1="438.43" x2="332.6" y2="438.43" stroke="#111" stroke-width="1"/>
<line x1="329.6" y1="445.57" x2="332.6" y2="445.57" stroke="#111" stroke-width="1"/>
<line x1="329.6" y1="452.71" x2="332.6" y2="452.71" stroke="#111" stroke-width="1"/>
<line x1="329.6" y1="459.85" x2="332.6" y2="459.85" stroke="#111" stroke-width="1"/>
<line x1="329.6" y1="466.99" x2="332.6" y2="466.99" stroke="#111" stroke-width="1"/>
<line x1="329.6" y1="474.13" x2="332.6" y2="474.13" stroke="#111" stroke-width="1"/>
<line x1="329.6" y1="481.27" x2="332.6" y2="481.27" stroke="#111" stroke-width="1"/>
<line x1="329.6" y1="488.41" x2="332.6" y2="488.41" stroke="#111" stroke-width="1"/>
<line x1="329.6" y1="495.55" x2="332.6" y2="495.55" stroke="#111" stroke-width="1"/>
<line x1="329.6" y1="502.69" x2="332.6" y2="502.69" stroke="#111" stroke-width="1"/>
<line x1="329.6" y1="509.83" x2="332.6" y2="509.83" stroke="#111" stroke-width="1"/>
<line x1="329.6" y1="516.97" x2="332.6" y2="516.97" stroke="#111" stroke-width="1"/>
<line x1="329.6" y1="524.11" x2="332.6" y2="524.11" stroke="#111" stroke-width="1"/>
<line x1="329.6" y1="531.25" x2="332.6" y2="531.25" stroke="#111" stroke-width="1"/>
<line x1="329.6" y1="538.39" x2="332.6" y2="538.39" stroke="#111" stroke-width="1"/>
<line x1="329.6" y1="545.53" x2="332.6" y2="545.53" stroke="#111" stroke-width="1"/>
<line x1="329.6" y1="552.67" x2="332.6" y2="552.67" stroke="#111" stroke-width="1"/>
<line x1="329.6" y1="559.81" x2="332.6" y2="559.81" stroke="#111" stroke-width="1"/>
<line x1="329.6" y1="566.95" x2="332.6" y2="566.95" stroke="#111" stroke-width="1"/>
<line x1="329.6" y1="574.09" x2="332.6" y2="574.09" stroke="#111" stroke-width="1"/>
<line x1="331.95" y1="577.6" x2="446.2" y2="577.6" stroke="#000" stroke-width="1.3"/>
<line x1="332.75" y1="577.6" x2="332.75" y2="580.4" stroke="#111" stroke-width="1.1"/>
<text x="332.75" y="590.9" font-size="8" text-anchor="middle" class="n">0.5</text>
<line x1="369.25" y1="577.6" x2="369.25" y2="580.4" stroke="#111" stroke-width="1.1"/>
<text x="369.25" y="590.9" font-size="8" text-anchor="middle" class="n">1.0</text>
<line x1="405.75" y1="577.6" x2="405.75" y2="580.4" stroke="#111" stroke-width="1.1"/>
<text x="405.75" y="590.9" font-size="8" text-anchor="middle" class="n">1.5</text>
<line x1="442.25" y1="577.6" x2="442.25" y2="580.4" stroke="#111" stroke-width="1.1"/>
<text x="442.25" y="590.9" font-size="8" text-anchor="middle" class="n">2.0</text>
<line x1="369.25" y1="421" x2="369.25" y2="577.6" stroke="#000" stroke-width="1.5" stroke-dasharray="1 1.2"/>
<line x1="366" y1="424.15" x2="388.25" y2="424.15" stroke="#000" stroke-width="1.25"/>
<line x1="366" y1="422" x2="366" y2="426.3" stroke="#000" stroke-width="1.2"/>
<line x1="388.25" y1="422" x2="388.25" y2="426.3" stroke="#000" stroke-width="1.2"/>
<path d="M374.55 422.35H378.95L376.75 426.35Z" fill="#000"/>
<line x1="367" y1="431.29" x2="399.5" y2="431.29" stroke="#000" stroke-width="1.25"/>
<line x1="367" y1="429.14" x2="367" y2="433.44" stroke="#000" stroke-width="1.2"/>
<line x1="399.5" y1="429.14" x2="399.5" y2="433.44" stroke="#000" stroke-width="1.2"/>
<path d="M380.8 429.49H385.2L383 433.49Z" fill="#000"/>
<line x1="388" y1="438.43" x2="417" y2="438.43" stroke="#000" stroke-width="1.25"/>
<line x1="388" y1="436.28" x2="388" y2="440.58" stroke="#000" stroke-width="1.2"/>
<line x1="417" y1="436.28" x2="417" y2="440.58" stroke="#000" stroke-width="1.2"/>
<path d="M400.3 436.63H404.7L402.5 440.63Z" fill="#000"/>
<line x1="362.5" y1="445.57" x2="401.25" y2="445.57" stroke="#000" stroke-width="1.25"/>
<line x1="362.5" y1="443.42" x2="362.5" y2="447.72" stroke="#000" stroke-width="1.2"/>
<line x1="401.25" y1="443.42" x2="401.25" y2="447.72" stroke="#000" stroke-width="1.2"/>
<path d="M379.05 443.77H383.45L381.25 447.77Z" fill="#000"/>
<line x1="359.5" y1="452.71" x2="410.75" y2="452.71" stroke="#000" stroke-width="1.25"/>
<line x1="359.5" y1="450.56" x2="359.5" y2="454.86" stroke="#000" stroke-width="1.2"/>
<line x1="410.75" y1="450.56" x2="410.75" y2="454.86" stroke="#000" stroke-width="1.2"/>
<path d="M382.8 450.91H387.2L385 454.91Z" fill="#000"/>
<line x1="355.5" y1="459.85" x2="390.5" y2="459.85" stroke="#000" stroke-width="1.25"/>
<line x1="355.5" y1="457.7" x2="355.5" y2="462" stroke="#000" stroke-width="1.2"/>
<line x1="390.5" y1="457.7" x2="390.5" y2="462" stroke="#000" stroke-width="1.2"/>
<path d="M370.3 458.05H374.7L372.5 462.05Z" fill="#000"/>
<line x1="369.5" y1="466.99" x2="399.25" y2="466.99" stroke="#000" stroke-width="1.25"/>
<line x1="369.5" y1="464.84" x2="369.5" y2="469.14" stroke="#000" stroke-width="1.2"/>
<line x1="399.25" y1="464.84" x2="399.25" y2="469.14" stroke="#000" stroke-width="1.2"/>
<path d="M381.8 465.19H386.2L384 469.19Z" fill="#000"/>
<line x1="342" y1="474.13" x2="373.75" y2="474.13" stroke="#000" stroke-width="1.25"/>
<line x1="342" y1="471.98" x2="342" y2="476.28" stroke="#000" stroke-width="1.2"/>
<line x1="373.75" y1="471.98" x2="373.75" y2="476.28" stroke="#000" stroke-width="1.2"/>
<path d="M355.8 472.33H360.2L358 476.33Z" fill="#000"/>
<line x1="359.5" y1="481.27" x2="386.25" y2="481.27" stroke="#000" stroke-width="1.25"/>
<line x1="359.5" y1="479.12" x2="359.5" y2="483.42" stroke="#000" stroke-width="1.2"/>
<line x1="386.25" y1="479.12" x2="386.25" y2="483.42" stroke="#000" stroke-width="1.2"/>
<path d="M370.8 479.47H375.2L373 483.47Z" fill="#000"/>
<line x1="381.75" y1="488.41" x2="397" y2="488.41" stroke="#000" stroke-width="1.25"/>
<line x1="381.75" y1="486.26" x2="381.75" y2="490.56" stroke="#000" stroke-width="1.2"/>
<line x1="397" y1="486.26" x2="397" y2="490.56" stroke="#000" stroke-width="1.2"/>
<path d="M386.55 486.61H390.95L388.75 490.61Z" fill="#000"/>
<line x1="381.75" y1="495.55" x2="415" y2="495.55" stroke="#000" stroke-width="1.25"/>
<line x1="381.75" y1="493.4" x2="381.75" y2="497.7" stroke="#000" stroke-width="1.2"/>
<line x1="415" y1="493.4" x2="415" y2="497.7" stroke="#000" stroke-width="1.2"/>
<path d="M396.55 493.75H400.95L398.75 497.75Z" fill="#000"/>
<line x1="352" y1="502.69" x2="384.25" y2="502.69" stroke="#000" stroke-width="1.25"/>
<line x1="352" y1="500.54" x2="352" y2="504.84" stroke="#000" stroke-width="1.2"/>
<line x1="384.25" y1="500.54" x2="384.25" y2="504.84" stroke="#000" stroke-width="1.2"/>
<path d="M365.8 500.89H370.2L368 504.89Z" fill="#000"/>
<line x1="362" y1="509.83" x2="391.25" y2="509.83" stroke="#000" stroke-width="1.25"/>
<line x1="362" y1="507.68" x2="362" y2="511.98" stroke="#000" stroke-width="1.2"/>
<line x1="391.25" y1="507.68" x2="391.25" y2="511.98" stroke="#000" stroke-width="1.2"/>
<path d="M374.3 508.03H378.7L376.5 512.03Z" fill="#000"/>
<line x1="388" y1="516.97" x2="420.75" y2="516.97" stroke="#000" stroke-width="1.25"/>
<line x1="388" y1="514.82" x2="388" y2="519.12" stroke="#000" stroke-width="1.2"/>
<line x1="420.75" y1="514.82" x2="420.75" y2="519.12" stroke="#000" stroke-width="1.2"/>
<path d="M402.05 515.17H406.45L404.25 519.17Z" fill="#000"/>
<line x1="367" y1="524.11" x2="413" y2="524.11" stroke="#000" stroke-width="1.25"/>
<line x1="367" y1="521.96" x2="367" y2="526.26" stroke="#000" stroke-width="1.2"/>
<line x1="413" y1="521.96" x2="413" y2="526.26" stroke="#000" stroke-width="1.2"/>
<path d="M387.05 522.31H391.45L389.25 526.31Z" fill="#000"/>
<line x1="347.5" y1="531.25" x2="403.25" y2="531.25" stroke="#000" stroke-width="1.25"/>
<line x1="347.5" y1="529.1" x2="347.5" y2="533.4" stroke="#000" stroke-width="1.2"/>
<line x1="403.25" y1="529.1" x2="403.25" y2="533.4" stroke="#000" stroke-width="1.2"/>
<path d="M373.3 529.45H377.7L375.5 533.45Z" fill="#000"/>
<line x1="354.5" y1="538.39" x2="400" y2="538.39" stroke="#000" stroke-width="1.25"/>
<line x1="354.5" y1="536.24" x2="354.5" y2="540.54" stroke="#000" stroke-width="1.2"/>
<line x1="400" y1="536.24" x2="400" y2="540.54" stroke="#000" stroke-width="1.2"/>
<path d="M375.3 536.59H379.7L377.5 540.59Z" fill="#000"/>
<line x1="382" y1="545.53" x2="433" y2="545.53" stroke="#000" stroke-width="1.25"/>
<line x1="382" y1="543.38" x2="382" y2="547.68" stroke="#000" stroke-width="1.2"/>
<line x1="433" y1="543.38" x2="433" y2="547.68" stroke="#000" stroke-width="1.2"/>
<path d="M405.05 543.73H409.45L407.25 547.73Z" fill="#000"/>
<line x1="357.5" y1="552.67" x2="388.75" y2="552.67" stroke="#000" stroke-width="1.25"/>
<line x1="357.5" y1="550.52" x2="357.5" y2="554.82" stroke="#000" stroke-width="1.2"/>
<line x1="388.75" y1="550.52" x2="388.75" y2="554.82" stroke="#000" stroke-width="1.2"/>
<path d="M370.8 550.87H375.2L373 554.87Z" fill="#000"/>
<line x1="358.25" y1="559.81" x2="403.25" y2="559.81" stroke="#000" stroke-width="1.25"/>
<line x1="358.25" y1="557.66" x2="358.25" y2="561.96" stroke="#000" stroke-width="1.2"/>
<line x1="403.25" y1="557.66" x2="403.25" y2="561.96" stroke="#000" stroke-width="1.2"/>
<path d="M378.55 558.01H382.95L380.75 562.01Z" fill="#000"/>
<line x1="358.25" y1="566.95" x2="388.75" y2="566.95" stroke="#000" stroke-width="1.25"/>
<line x1="358.25" y1="564.8" x2="358.25" y2="569.1" stroke="#000" stroke-width="1.2"/>
<line x1="388.75" y1="564.8" x2="388.75" y2="569.1" stroke="#000" stroke-width="1.2"/>
<path d="M371.55 565.15H375.95L373.75 569.15Z" fill="#000"/>
<line x1="375.75" y1="574.09" x2="411.25" y2="574.09" stroke="#000" stroke-width="1.25"/>
<line x1="375.75" y1="571.94" x2="375.75" y2="576.24" stroke="#000" stroke-width="1.2"/>
<line x1="411.25" y1="571.94" x2="411.25" y2="576.24" stroke="#000" stroke-width="1.2"/>
<path d="M390.8 572.29H395.2L393 576.29Z" fill="#000"/>
<rect x="446.25" y="412.2" width="66.75" height="165.11" fill="#fff" stroke="none" stroke-width="1"/>
<rect x="478.75" y="420.23" width="34.25" height="21.42" fill="#cdcdcd" stroke="none" stroke-width="1"/>
<rect x="446.25" y="434.51" width="32.5" height="7.14" fill="#cdcdcd" stroke="none" stroke-width="1"/>
<rect x="478.75" y="463.07" width="34.25" height="21.42" fill="#cdcdcd" stroke="none" stroke-width="1"/>
<rect x="446.25" y="463.07" width="32.5" height="7.14" fill="#cdcdcd" stroke="none" stroke-width="1"/>
<rect x="446.25" y="484.49" width="66.75" height="7.14" fill="#cdcdcd" stroke="none" stroke-width="1"/>
<rect x="478.75" y="491.63" width="34.25" height="21.42" fill="#cdcdcd" stroke="none" stroke-width="1"/>
<rect x="446.25" y="491.63" width="32.5" height="7.14" fill="#cdcdcd" stroke="none" stroke-width="1"/>
<rect x="446.25" y="513.05" width="66.75" height="7.14" fill="#cdcdcd" stroke="none" stroke-width="1"/>
<rect x="446.25" y="541.61" width="66.75" height="7.14" fill="#cdcdcd" stroke="none" stroke-width="1"/>
<rect x="446.25" y="570.17" width="66.75" height="7.14" fill="#cdcdcd" stroke="none" stroke-width="1"/>
<line x1="446.25" y1="420.23" x2="513" y2="420.23" stroke="#111" stroke-width="1.3"/>
<line x1="446.25" y1="427.37" x2="478.75" y2="427.37" stroke="#111" stroke-width="1.3"/>
<line x1="446.25" y1="434.51" x2="478.75" y2="434.51" stroke="#111" stroke-width="1.3"/>
<line x1="446.25" y1="441.65" x2="513" y2="441.65" stroke="#111" stroke-width="1.3"/>
<line x1="478.75" y1="420.23" x2="478.75" y2="441.65" stroke="#111" stroke-width="1.1"/>
<line x1="446.25" y1="448.79" x2="478.75" y2="448.79" stroke="#111" stroke-width="1.3"/>
<line x1="446.25" y1="455.93" x2="478.75" y2="455.93" stroke="#111" stroke-width="1.3"/>
<line x1="446.25" y1="463.07" x2="513" y2="463.07" stroke="#111" stroke-width="1.3"/>
<line x1="478.75" y1="441.65" x2="478.75" y2="463.07" stroke="#111" stroke-width="1.1"/>
<line x1="446.25" y1="470.21" x2="478.75" y2="470.21" stroke="#111" stroke-width="1.3"/>
<line x1="446.25" y1="477.35" x2="478.75" y2="477.35" stroke="#111" stroke-width="1.3"/>
<line x1="446.25" y1="484.49" x2="513" y2="484.49" stroke="#111" stroke-width="1.3"/>
<line x1="478.75" y1="463.07" x2="478.75" y2="484.49" stroke="#111" stroke-width="1.1"/>
<line x1="446.25" y1="491.63" x2="513" y2="491.63" stroke="#111" stroke-width="1.3"/>
<line x1="446.25" y1="498.77" x2="478.75" y2="498.77" stroke="#111" stroke-width="1.3"/>
<line x1="446.25" y1="505.91" x2="478.75" y2="505.91" stroke="#111" stroke-width="1.3"/>
<line x1="446.25" y1="513.05" x2="513" y2="513.05" stroke="#111" stroke-width="1.3"/>
<line x1="478.75" y1="491.63" x2="478.75" y2="513.05" stroke="#111" stroke-width="1.1"/>
<line x1="446.25" y1="520.19" x2="513" y2="520.19" stroke="#111" stroke-width="1.3"/>
<line x1="446.25" y1="527.33" x2="478.75" y2="527.33" stroke="#111" stroke-width="1.3"/>
<line x1="446.25" y1="534.47" x2="478.75" y2="534.47" stroke="#111" stroke-width="1.3"/>
<line x1="446.25" y1="541.61" x2="513" y2="541.61" stroke="#111" stroke-width="1.3"/>
<line x1="478.75" y1="520.19" x2="478.75" y2="541.61" stroke="#111" stroke-width="1.1"/>
<line x1="446.25" y1="548.75" x2="513" y2="548.75" stroke="#111" stroke-width="1.3"/>
<line x1="446.25" y1="555.89" x2="478.75" y2="555.89" stroke="#111" stroke-width="1.3"/>
<line x1="446.25" y1="563.03" x2="478.75" y2="563.03" stroke="#111" stroke-width="1.3"/>
<line x1="446.25" y1="570.17" x2="513" y2="570.17" stroke="#111" stroke-width="1.3"/>
<line x1="478.75" y1="548.75" x2="478.75" y2="570.17" stroke="#111" stroke-width="1.1"/>
<rect x="446.25" y="412.2" width="66.75" height="165.11" fill="none" stroke="#111" stroke-width="1.2"/>
<text x="479.62" y="418.52" font-size="6.4" text-anchor="middle" class="b h"><tspan font-style="italic">P</tspan> value</text>
<text x="462.5" y="426.3" font-size="6.3" text-anchor="middle" class="t">.18</text>
<text x="462.5" y="433.44" font-size="6.3" text-anchor="middle" class="t">.08</text>
<text x="462.5" y="440.58" font-size="6.3" text-anchor="middle" class="t">&lt; .0001</text>
<text x="495.88" y="426.39" font-size="6.3" text-anchor="middle" class="t">−/− vs all</text>
<text x="495.88" y="433.19" font-size="6.3" text-anchor="middle" class="t">+ =</text>
<text x="495.88" y="439.99" font-size="6.3" text-anchor="middle" class="t">&lt; .0001</text>
<text x="462.5" y="447.72" font-size="6.3" text-anchor="middle" class="t">.21</text>
<text x="462.5" y="454.86" font-size="6.3" text-anchor="middle" class="t">.24</text>
<text x="462.5" y="462" font-size="6.3" text-anchor="middle" class="t">.79</text>
<text x="495.88" y="447.81" font-size="6.3" text-anchor="middle" class="t">−/− vs all</text>
<text x="495.88" y="454.61" font-size="6.3" text-anchor="middle" class="t">+ =</text>
<text x="495.88" y="461.41" font-size="6.3" text-anchor="middle" class="t">.44</text>
<text x="462.5" y="469.14" font-size="6.3" text-anchor="middle" class="t">.04</text>
<text x="462.5" y="476.28" font-size="6.3" text-anchor="middle" class="t">.14</text>
<text x="462.5" y="483.42" font-size="6.3" text-anchor="middle" class="t">.65</text>
<text x="495.88" y="469.23" font-size="6.3" text-anchor="middle" class="t">−/− vs all</text>
<text x="495.88" y="476.03" font-size="6.3" text-anchor="middle" class="t">+ =</text>
<text x="495.88" y="482.83" font-size="6.3" text-anchor="middle" class="t">.01</text>
<text x="479.62" y="490.56" font-size="6.3" text-anchor="middle" class="t">&lt; .0001</text>
<text x="462.5" y="497.7" font-size="6.3" text-anchor="middle" class="t">.0001</text>
<text x="462.5" y="504.84" font-size="6.3" text-anchor="middle" class="t">.81</text>
<text x="462.5" y="511.98" font-size="6.3" text-anchor="middle" class="t">.35</text>
<text x="495.88" y="497.79" font-size="6.3" text-anchor="middle" class="t">−/− vs all</text>
<text x="495.88" y="504.59" font-size="6.3" text-anchor="middle" class="t">+ =</text>
<text x="495.88" y="511.39" font-size="6.3" text-anchor="middle" class="t">.0001</text>
<text x="479.62" y="519.12" font-size="6.3" text-anchor="middle" class="t">&lt; .0001</text>
<text x="462.5" y="526.26" font-size="6.3" text-anchor="middle" class="t">.06</text>
<text x="462.5" y="533.4" font-size="6.3" text-anchor="middle" class="t">.80</text>
<text x="462.5" y="540.54" font-size="6.3" text-anchor="middle" class="t">.56</text>
<text x="495.88" y="526.35" font-size="6.3" text-anchor="middle" class="t">−/− vs all</text>
<text x="495.88" y="533.15" font-size="6.3" text-anchor="middle" class="t">+ =</text>
<text x="495.88" y="539.95" font-size="6.3" text-anchor="middle" class="t">.28</text>
<text x="479.62" y="547.68" font-size="6.3" text-anchor="middle" class="t">.0005</text>
<text x="462.5" y="554.82" font-size="6.3" text-anchor="middle" class="t">.68</text>
<text x="462.5" y="561.96" font-size="6.3" text-anchor="middle" class="t">.34</text>
<text x="462.5" y="569.1" font-size="6.3" text-anchor="middle" class="t">.65</text>
<text x="495.88" y="554.91" font-size="6.3" text-anchor="middle" class="t">−/− vs all</text>
<text x="495.88" y="561.71" font-size="6.3" text-anchor="middle" class="t">+ =</text>
<text x="495.88" y="568.51" font-size="6.3" text-anchor="middle" class="t">.82</text>
<text x="479.62" y="576.24" font-size="6.3" text-anchor="middle" class="t">.003</text>
</g>
</g>
<path d="M0 0H520V600H0Z M1 1V598.7H518.7V1Z" fill="#000" fill-rule="evenodd"/>
</svg>
</body></html>
